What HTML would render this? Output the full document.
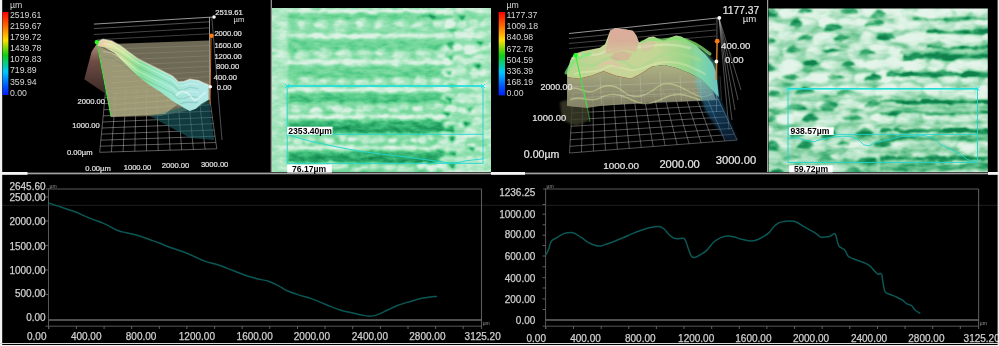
<!DOCTYPE html><html><head><meta charset="utf-8"><title>Profile</title><style>
html,body{margin:0;padding:0;background:#000;width:999px;height:346px;overflow:hidden}
svg{display:block}
text{font-family:'Liberation Sans', Arial, sans-serif}
.cl{stroke:#cfcfcf;stroke-width:0.25px;paint-order:stroke}.c3{stroke:#e0e0e0;stroke-width:0.22px;paint-order:stroke}
</style></head><body>
<svg width="999" height="346" viewBox="0 0 999 346">
<defs>
<linearGradient id="cbar" x1="0" y1="0" x2="0" y2="1">
<stop offset="0" stop-color="#ff0000"/><stop offset="0.17" stop-color="#ff6a00"/><stop offset="0.34" stop-color="#ffe000"/>
<stop offset="0.52" stop-color="#10d010"/><stop offset="0.72" stop-color="#00c8ff"/><stop offset="0.9" stop-color="#0050ff"/><stop offset="1" stop-color="#0020ff"/></linearGradient>

<linearGradient id="brown1" x1="0" y1="0" x2="0" y2="1"><stop offset="0" stop-color="#b58f80"/><stop offset="0.35" stop-color="#6e4c44"/><stop offset="1" stop-color="#3a2a26"/></linearGradient>
<linearGradient id="surf1" x1="95" y1="0" x2="210" y2="0" gradientUnits="userSpaceOnUse">
<stop offset="0" stop-color="#e8c4aa"/><stop offset="0.13" stop-color="#e4e0a6"/><stop offset="0.26" stop-color="#c4e69a"/><stop offset="0.4" stop-color="#86e09a"/><stop offset="0.58" stop-color="#96e8c8"/><stop offset="0.8" stop-color="#aae6e0"/><stop offset="1" stop-color="#b4eae8"/></linearGradient>
<linearGradient id="surf3" x1="560" y1="0" x2="720" y2="0" gradientUnits="userSpaceOnUse">
<stop offset="0" stop-color="#c0e896"/><stop offset="0.3" stop-color="#dae6a6"/><stop offset="0.6" stop-color="#d4e8a0"/><stop offset="0.78" stop-color="#a8e894"/><stop offset="0.9" stop-color="#80dcb0"/><stop offset="1" stop-color="#6ccccc"/></linearGradient>
<linearGradient id="side3" x1="690" y1="45" x2="735" y2="135" gradientUnits="userSpaceOnUse"><stop offset="0" stop-color="#78e0a0"/><stop offset="0.35" stop-color="#60c8c8"/><stop offset="0.65" stop-color="#2a7ab0"/><stop offset="1" stop-color="#123a60"/></linearGradient>
<linearGradient id="peak3" x1="0" y1="28" x2="0" y2="56" gradientUnits="userSpaceOnUse"><stop offset="0" stop-color="#e4a4a0"/><stop offset="0.45" stop-color="#daa898"/><stop offset="1" stop-color="#d4c49c"/></linearGradient>
<linearGradient id="wall3" x1="0" y1="66" x2="0" y2="108" gradientUnits="userSpaceOnUse"><stop offset="0" stop-color="#c4c894"/><stop offset="0.5" stop-color="#aaa984"/><stop offset="1" stop-color="#8e8c70"/></linearGradient>
<filter id="blur06" x="-5%" y="-5%" width="110%" height="110%"><feGaussianBlur stdDeviation="0.6"/></filter>


<clipPath id="clip2"><rect x="272" y="8" width="219" height="164"/></clipPath>
<clipPath id="clip4"><rect x="768.6" y="8.6" width="219.2" height="163.4"/></clipPath>
<linearGradient id="base2" x1="0" y1="8" x2="0" y2="172" gradientUnits="userSpaceOnUse">
<stop offset="0" stop-color="#b8e8cc"/><stop offset="0.45" stop-color="#a4dcbc"/><stop offset="1" stop-color="#8cccaa"/></linearGradient>
<linearGradient id="base4" x1="0" y1="8" x2="0" y2="172" gradientUnits="userSpaceOnUse">
<stop offset="0" stop-color="#b6e6c8"/><stop offset="0.5" stop-color="#a6dcbc"/><stop offset="1" stop-color="#7cc49c"/></linearGradient>
<filter id="blur1" x="-10%" y="-10%" width="120%" height="120%"><feGaussianBlur stdDeviation="1.2"/></filter>
<filter id="blur2" x="-10%" y="-10%" width="120%" height="120%"><feGaussianBlur stdDeviation="2"/></filter>
<filter id="disp" x="-5%" y="-5%" width="110%" height="110%">
<feTurbulence type="fractalNoise" baseFrequency="0.07 0.18" numOctaves="2" seed="3" result="n"/>
<feDisplacementMap in="SourceGraphic" in2="n" scale="7" xChannelSelector="R" yChannelSelector="G" result="d"/>
<feGaussianBlur in="d" stdDeviation="0.9"/>
</filter>
<filter id="tex4" x="0" y="0" width="100%" height="100%" color-interpolation-filters="sRGB">
<feTurbulence type="fractalNoise" baseFrequency="0.04 0.12" numOctaves="3" seed="9" result="n"/>
<feColorMatrix in="n" type="matrix" values="1 0 0 0 0  1 0 0 0 0  1 0 0 0 0  0 0 0 0 1"/>
<feComponentTransfer>
<feFuncR type="table" tableValues="0.04 0.04 0.04 0.22 0.72 0.84 0.89 0.92 0.94 0.95 0.96"/>
<feFuncG type="table" tableValues="0.46 0.46 0.46 0.62 0.88 0.93 0.95 0.96 0.96 0.97 0.97"/>
<feFuncB type="table" tableValues="0.26 0.26 0.26 0.42 0.78 0.86 0.9 0.92 0.93 0.94 0.95"/>
</feComponentTransfer>
</filter>
<linearGradient id="shade4" x1="0" y1="8" x2="0" y2="172" gradientUnits="userSpaceOnUse">
<stop offset="0" stop-color="#0a6a3a" stop-opacity="0"/><stop offset="0.5" stop-color="#0a6a3a" stop-opacity="0.05"/><stop offset="1" stop-color="#0a6a3a" stop-opacity="0.3"/></linearGradient>
<linearGradient id="p2shade" x1="0" y1="8" x2="0" y2="172" gradientUnits="userSpaceOnUse">
<stop offset="0" stop-color="#ffffff" stop-opacity="0.12"/><stop offset="0.5" stop-color="#000" stop-opacity="0"/><stop offset="1" stop-color="#000" stop-opacity="0.18"/></linearGradient>
<linearGradient id="ropeU" x1="0" y1="0" x2="0" y2="1"><stop offset="0" stop-color="#fafafa"/><stop offset="0.22" stop-color="#e8e8e8"/><stop offset="0.38" stop-color="#7e7e7e"/><stop offset="0.8" stop-color="#727272"/><stop offset="1" stop-color="#666666"/></linearGradient>
<linearGradient id="ropeM" x1="0" y1="0" x2="0" y2="1"><stop offset="0" stop-color="#f4f4f4"/><stop offset="0.2" stop-color="#d8d8d8"/><stop offset="0.36" stop-color="#686868"/><stop offset="0.8" stop-color="#545454"/><stop offset="1" stop-color="#444444"/></linearGradient>
<linearGradient id="ropeL" x1="0" y1="0" x2="0" y2="1"><stop offset="0" stop-color="#eeeeee"/><stop offset="0.18" stop-color="#cccccc"/><stop offset="0.34" stop-color="#4a4a4a"/><stop offset="0.8" stop-color="#2c2c2c"/><stop offset="1" stop-color="#1c1c1c"/></linearGradient>
<filter id="tex2" x="0" y="0" width="100%" height="100%" color-interpolation-filters="sRGB">
<feTurbulence type="fractalNoise" baseFrequency="0.09 0.2" numOctaves="3" seed="5" result="n0"/>
<feColorMatrix in="n0" type="matrix" values="1 0 0 0 0  1 0 0 0 0  1 0 0 0 0  0 0 0 0 1" result="n"/>
<feDisplacementMap in="SourceGraphic" in2="n0" scale="5" xChannelSelector="R" yChannelSelector="G" result="d"/>
<feGaussianBlur in="d" stdDeviation="1.0" result="db"/>
<feComposite in="db" in2="n" operator="arithmetic" k1="0" k2="1" k3="0.4" k4="-0.2" result="c"/>
<feComponentTransfer in="c">
<feFuncR type="table" tableValues="0.05 0.12 0.22 0.34 0.46 0.54 0.64 0.76 0.86"/>
<feFuncG type="table" tableValues="0.48 0.6 0.72 0.8 0.85 0.87 0.9 0.93 0.95"/>
<feFuncB type="table" tableValues="0.28 0.36 0.46 0.54 0.61 0.67 0.74 0.82 0.9"/>
</feComponentTransfer>
</filter>
<linearGradient id="p4shade" x1="0" y1="8" x2="0" y2="172" gradientUnits="userSpaceOnUse">
<stop offset="0" stop-color="#ffffff" stop-opacity="0.2"/><stop offset="0.5" stop-color="#000" stop-opacity="0"/><stop offset="1" stop-color="#000" stop-opacity="0.25"/></linearGradient>
<filter id="tex4b" x="0" y="0" width="100%" height="100%" color-interpolation-filters="sRGB">
<feTurbulence type="fractalNoise" baseFrequency="0.05 0.12" numOctaves="3" seed="12" result="n0"/>
<feColorMatrix in="n0" type="matrix" values="1 0 0 0 0  1 0 0 0 0  1 0 0 0 0  0 0 0 0 1" result="n"/>
<feDisplacementMap in="SourceGraphic" in2="n0" scale="6" xChannelSelector="R" yChannelSelector="G" result="d"/>
<feGaussianBlur in="d" stdDeviation="0.9" result="db"/>
<feComposite in="db" in2="n" operator="arithmetic" k1="0" k2="1" k3="0.7" k4="-0.35" result="c"/>
<feComponentTransfer in="c">
<feFuncR type="table" tableValues="0.06 0.14 0.28 0.44 0.58 0.68 0.78 0.86 0.9"/>
<feFuncG type="table" tableValues="0.5 0.6 0.7 0.78 0.84 0.88 0.92 0.95 0.96"/>
<feFuncB type="table" tableValues="0.3 0.38 0.48 0.58 0.68 0.76 0.83 0.89 0.92"/>
</feComponentTransfer>
</filter>
<filter id="noise" x="0" y="0" width="100%" height="100%">
<feTurbulence type="fractalNoise" baseFrequency="0.09 0.22" numOctaves="3" seed="4" result="t"/>
<feColorMatrix in="t" type="matrix" values="0 0 0 0 1  0 0 0 0 1  0 0 0 0 1  0 0 0 2.2 -1.05"/>
</filter>

</defs>
<g>
<rect width="999" height="346" fill="#000"/>
<line x1="2" y1="205.3" x2="998" y2="205.3" stroke="#1e1e1e" stroke-width="1"/>
<line x1="48.5" y1="188.5" x2="48.5" y2="329" stroke="#575757" stroke-width="1"/>
<line x1="46.0" y1="189" x2="481.5" y2="189" stroke="#5a5a5a" stroke-width="1.1"/>
<line x1="481.5" y1="189" x2="481.5" y2="329" stroke="#5a5a5a" stroke-width="1.1"/>
<line x1="48.5" y1="320" x2="481.5" y2="320" stroke="#6a6a6a" stroke-width="1.4"/>
<line x1="45.5" y1="326.2" x2="481.5" y2="326.2" stroke="#575757" stroke-width="1"/>
<line x1="48.8" y1="326" x2="48.8" y2="329" stroke="#606060" stroke-width="1"/>
<line x1="76.4" y1="326" x2="76.4" y2="329" stroke="#606060" stroke-width="1"/>
<line x1="104.1" y1="326" x2="104.1" y2="329" stroke="#606060" stroke-width="1"/>
<line x1="131.7" y1="326" x2="131.7" y2="329" stroke="#606060" stroke-width="1"/>
<line x1="159.3" y1="326" x2="159.3" y2="329" stroke="#606060" stroke-width="1"/>
<line x1="186.9" y1="326" x2="186.9" y2="329" stroke="#606060" stroke-width="1"/>
<line x1="214.6" y1="326" x2="214.6" y2="329" stroke="#606060" stroke-width="1"/>
<line x1="242.2" y1="326" x2="242.2" y2="329" stroke="#606060" stroke-width="1"/>
<line x1="269.8" y1="326" x2="269.8" y2="329" stroke="#606060" stroke-width="1"/>
<line x1="297.5" y1="326" x2="297.5" y2="329" stroke="#606060" stroke-width="1"/>
<line x1="325.1" y1="326" x2="325.1" y2="329" stroke="#606060" stroke-width="1"/>
<line x1="352.7" y1="326" x2="352.7" y2="329" stroke="#606060" stroke-width="1"/>
<line x1="380.4" y1="326" x2="380.4" y2="329" stroke="#606060" stroke-width="1"/>
<line x1="408.0" y1="326" x2="408.0" y2="329" stroke="#606060" stroke-width="1"/>
<line x1="435.6" y1="326" x2="435.6" y2="329" stroke="#606060" stroke-width="1"/>
<line x1="463.2" y1="326" x2="463.2" y2="329" stroke="#606060" stroke-width="1"/>
<line x1="45.5" y1="197" x2="48.5" y2="197" stroke="#606060" stroke-width="1"/>
<line x1="45.5" y1="221" x2="48.5" y2="221" stroke="#606060" stroke-width="1"/>
<line x1="45.5" y1="245.6" x2="48.5" y2="245.6" stroke="#606060" stroke-width="1"/>
<line x1="45.5" y1="270" x2="48.5" y2="270" stroke="#606060" stroke-width="1"/>
<line x1="45.5" y1="294.5" x2="48.5" y2="294.5" stroke="#606060" stroke-width="1"/>
<text x="45.6" y="189.8" text-anchor="end" font-size="10" fill="#cfcfcf" class="cl">2645.60</text>
<text x="45.6" y="201.0" text-anchor="end" font-size="10" fill="#cfcfcf" class="cl">2500.00</text>
<text x="45.6" y="225.0" text-anchor="end" font-size="10" fill="#cfcfcf" class="cl">2000.00</text>
<text x="45.6" y="249.8" text-anchor="end" font-size="10" fill="#cfcfcf" class="cl">1500.00</text>
<text x="45.6" y="273.8" text-anchor="end" font-size="10" fill="#cfcfcf" class="cl">1000.00</text>
<text x="45.6" y="297.4" text-anchor="end" font-size="10" fill="#cfcfcf" class="cl">500.00</text>
<text x="45.6" y="321.3" text-anchor="end" font-size="10" fill="#cfcfcf" class="cl">0.00</text>
<text x="27.0" y="339.8" font-size="10" fill="#cfcfcf" class="cl">0.00</text>
<text x="70.9" y="339.8" font-size="10" fill="#cfcfcf" class="cl">400.00</text>
<text x="125.8" y="339.8" font-size="10" fill="#cfcfcf" class="cl">800.00</text>
<text x="178.8" y="339.8" font-size="10" fill="#cfcfcf" class="cl">1200.00</text>
<text x="236.6" y="339.8" font-size="10" fill="#cfcfcf" class="cl">1600.00</text>
<text x="293.8" y="339.8" font-size="10" fill="#cfcfcf" class="cl">2000.00</text>
<text x="351.8" y="339.8" font-size="10" fill="#cfcfcf" class="cl">2400.00</text>
<text x="409.3" y="339.8" font-size="10" fill="#cfcfcf" class="cl">2800.00</text>
<text x="464.6" y="339.8" font-size="10" fill="#cfcfcf" class="cl">3125.20</text>
<text x="49.5" y="187.6" font-size="5" fill="#9a9a9a">µm</text>
<text x="482.7" y="324.8" font-size="5" fill="#9a9a9a">µm</text>
<path d="M49.3,203.3 C51.5,204.0 58.6,206.3 62.3,207.5 C66.0,208.7 69.0,209.7 71.3,210.5 C73.6,211.3 73.1,211.0 76.2,212.3 C79.3,213.6 85.5,216.5 90.1,218.4 C94.7,220.3 99.4,221.6 104.0,223.6 C108.6,225.6 114.0,229.0 117.8,230.5 C121.5,232.0 123.0,231.9 126.5,232.8 C130.0,233.7 134.3,234.4 138.6,235.7 C142.9,237.0 148.9,239.3 152.5,240.6 C156.1,241.9 157.0,242.2 160.0,243.3 C163.0,244.5 166.7,246.1 170.4,247.5 C174.2,248.9 178.4,250.0 182.5,251.5 C186.6,253.0 190.9,255.0 194.7,256.7 C198.5,258.3 201.0,260.0 205.1,261.4 C209.2,262.8 214.4,263.8 219.0,265.3 C223.6,266.8 228.5,268.9 232.8,270.5 C237.1,272.1 240.9,273.8 245.0,275.2 C249.1,276.6 253.1,277.6 257.1,278.7 C261.1,279.8 265.4,280.2 269.2,281.5 C273.0,282.8 277.0,285.1 280.0,286.7 C283.0,288.2 283.9,289.4 287.1,290.8 C290.3,292.2 295.2,293.8 299.3,295.1 C303.4,296.4 307.9,297.4 311.4,298.6 C314.9,299.8 316.9,300.8 320.1,302.1 C323.3,303.4 327.0,305.0 330.5,306.4 C334.0,307.8 337.1,309.1 340.9,310.2 C344.6,311.3 349.5,312.2 353.0,313.0 C356.5,313.8 359.1,314.6 361.7,315.1 C364.3,315.6 366.3,316.1 368.6,316.1 C370.9,316.2 373.0,316.1 375.6,315.4 C378.2,314.6 382.0,312.6 384.2,311.6 C386.4,310.6 386.5,310.5 388.7,309.5 C390.9,308.5 393.8,306.8 397.3,305.5 C400.8,304.2 405.4,302.9 409.5,301.7 C413.6,300.5 418.1,299.1 421.6,298.3 C425.1,297.5 427.8,297.2 430.3,296.9 C432.8,296.6 435.4,296.6 436.4,296.5" fill="none" stroke="#0b5755" stroke-width="1.5" stroke-linejoin="round" stroke-linecap="round"/>
<line x1="545.6" y1="188.5" x2="545.6" y2="329" stroke="#575757" stroke-width="1"/>
<line x1="543.1" y1="189" x2="978.6" y2="189" stroke="#5a5a5a" stroke-width="1.1"/>
<line x1="978.6" y1="189" x2="978.6" y2="329" stroke="#5a5a5a" stroke-width="1.1"/>
<line x1="545.6" y1="320" x2="978.6" y2="320" stroke="#6a6a6a" stroke-width="1.4"/>
<line x1="542.6" y1="326.2" x2="978.6" y2="326.2" stroke="#575757" stroke-width="1"/>
<line x1="545.9" y1="326" x2="545.9" y2="329" stroke="#606060" stroke-width="1"/>
<line x1="573.5" y1="326" x2="573.5" y2="329" stroke="#606060" stroke-width="1"/>
<line x1="601.2" y1="326" x2="601.2" y2="329" stroke="#606060" stroke-width="1"/>
<line x1="628.8" y1="326" x2="628.8" y2="329" stroke="#606060" stroke-width="1"/>
<line x1="656.4" y1="326" x2="656.4" y2="329" stroke="#606060" stroke-width="1"/>
<line x1="684.0" y1="326" x2="684.0" y2="329" stroke="#606060" stroke-width="1"/>
<line x1="711.7" y1="326" x2="711.7" y2="329" stroke="#606060" stroke-width="1"/>
<line x1="739.3" y1="326" x2="739.3" y2="329" stroke="#606060" stroke-width="1"/>
<line x1="766.9" y1="326" x2="766.9" y2="329" stroke="#606060" stroke-width="1"/>
<line x1="794.6" y1="326" x2="794.6" y2="329" stroke="#606060" stroke-width="1"/>
<line x1="822.2" y1="326" x2="822.2" y2="329" stroke="#606060" stroke-width="1"/>
<line x1="849.8" y1="326" x2="849.8" y2="329" stroke="#606060" stroke-width="1"/>
<line x1="877.5" y1="326" x2="877.5" y2="329" stroke="#606060" stroke-width="1"/>
<line x1="905.1" y1="326" x2="905.1" y2="329" stroke="#606060" stroke-width="1"/>
<line x1="932.7" y1="326" x2="932.7" y2="329" stroke="#606060" stroke-width="1"/>
<line x1="960.3" y1="326" x2="960.3" y2="329" stroke="#606060" stroke-width="1"/>
<line x1="542.6" y1="204.5" x2="545.6" y2="204.5" stroke="#606060" stroke-width="1"/>
<line x1="542.6" y1="214.2" x2="545.6" y2="214.2" stroke="#606060" stroke-width="1"/>
<line x1="542.6" y1="224.8" x2="545.6" y2="224.8" stroke="#606060" stroke-width="1"/>
<line x1="542.6" y1="235.2" x2="545.6" y2="235.2" stroke="#606060" stroke-width="1"/>
<line x1="542.6" y1="245.6" x2="545.6" y2="245.6" stroke="#606060" stroke-width="1"/>
<line x1="542.6" y1="256" x2="545.6" y2="256" stroke="#606060" stroke-width="1"/>
<line x1="542.6" y1="266.8" x2="545.6" y2="266.8" stroke="#606060" stroke-width="1"/>
<line x1="542.6" y1="277.7" x2="545.6" y2="277.7" stroke="#606060" stroke-width="1"/>
<line x1="542.6" y1="288" x2="545.6" y2="288" stroke="#606060" stroke-width="1"/>
<line x1="542.6" y1="298.9" x2="545.6" y2="298.9" stroke="#606060" stroke-width="1"/>
<line x1="542.6" y1="309.5" x2="545.6" y2="309.5" stroke="#606060" stroke-width="1"/>
<text x="535.3" y="195.6" text-anchor="end" font-size="10" fill="#cfcfcf" class="cl">1236.25</text>
<text x="535.3" y="217.6" text-anchor="end" font-size="10" fill="#cfcfcf" class="cl">1000.00</text>
<text x="535.3" y="238.4" text-anchor="end" font-size="10" fill="#cfcfcf" class="cl">800.00</text>
<text x="535.3" y="260.1" text-anchor="end" font-size="10" fill="#cfcfcf" class="cl">600.00</text>
<text x="535.3" y="281.6" text-anchor="end" font-size="10" fill="#cfcfcf" class="cl">400.00</text>
<text x="535.3" y="303.4" text-anchor="end" font-size="10" fill="#cfcfcf" class="cl">200.00</text>
<text x="535.3" y="324.4" text-anchor="end" font-size="10" fill="#cfcfcf" class="cl">0.00</text>
<text x="526.5" y="342.4" font-size="10" fill="#cfcfcf" class="cl">0.00</text>
<text x="570.2" y="342.4" font-size="10" fill="#cfcfcf" class="cl">400.00</text>
<text x="625.0" y="342.4" font-size="10" fill="#cfcfcf" class="cl">800.00</text>
<text x="678.1" y="342.4" font-size="10" fill="#cfcfcf" class="cl">1200.00</text>
<text x="735.3" y="342.4" font-size="10" fill="#cfcfcf" class="cl">1600.00</text>
<text x="792.9" y="342.4" font-size="10" fill="#cfcfcf" class="cl">2000.00</text>
<text x="850.9" y="342.4" font-size="10" fill="#cfcfcf" class="cl">2400.00</text>
<text x="908.3" y="342.4" font-size="10" fill="#cfcfcf" class="cl">2800.00</text>
<text x="963.6" y="342.4" font-size="10" fill="#cfcfcf" class="cl">3125.20</text>
<text x="546.6" y="187.6" font-size="5" fill="#9a9a9a">µm</text>
<text x="979.8000000000001" y="324.8" font-size="5" fill="#9a9a9a">µm</text>
<path d="M546.1,254.7 C546.5,253.8 547.8,251.2 548.7,249.0 C549.6,246.8 549.9,243.1 551.3,241.2 C552.7,239.3 555.1,238.7 557.3,237.4 C559.5,236.1 562.0,234.2 564.3,233.4 C566.6,232.6 569.5,232.5 571.2,232.5 C572.9,232.5 573.0,232.5 574.7,233.4 C576.4,234.3 579.3,236.2 581.6,237.7 C583.9,239.2 586.3,241.3 588.6,242.6 C590.9,243.9 593.5,244.9 595.5,245.5 C597.5,246.1 599.0,246.1 600.7,245.9 C602.4,245.7 603.6,245.1 605.9,244.3 C608.2,243.5 611.7,242.3 614.6,241.2 C617.5,240.1 620.3,238.9 623.2,237.7 C626.1,236.5 629.0,235.1 631.9,233.9 C634.8,232.7 637.7,231.5 640.6,230.5 C643.5,229.5 646.8,228.3 649.2,227.7 C651.6,227.1 653.2,226.9 655.0,226.7 C656.8,226.5 658.6,226.3 660.2,226.7 C661.8,227.1 663.0,228.0 664.5,229.3 C666.0,230.6 667.4,233.1 668.9,234.5 C670.4,235.9 671.8,237.2 673.2,237.9 C674.6,238.6 675.8,238.7 677.5,238.8 C679.2,238.9 682.1,237.7 683.6,238.3 C685.1,238.9 685.3,240.3 686.2,242.3 C687.1,244.3 687.9,247.8 688.8,250.1 C689.7,252.4 690.4,255.0 691.4,256.2 C692.4,257.4 693.4,257.6 694.9,257.4 C696.4,257.2 698.1,256.1 700.1,254.9 C702.1,253.7 704.7,252.3 707.0,250.1 C709.3,247.9 711.7,243.9 714.0,241.8 C716.3,239.7 718.6,238.6 720.9,237.6 C723.2,236.6 725.5,236.0 727.8,235.9 C730.1,235.8 732.5,236.5 734.8,237.1 C737.1,237.7 739.1,238.7 741.7,239.3 C744.3,239.9 747.8,240.8 750.4,240.9 C753.0,241.0 755.0,240.5 757.3,239.7 C759.6,238.9 762.2,237.4 764.2,236.2 C766.2,235.0 767.7,234.0 769.3,232.4 C770.9,230.8 772.1,228.3 773.7,226.7 C775.3,225.1 777.2,223.8 778.9,222.9 C780.6,222.0 782.4,221.8 784.1,221.5 C785.8,221.2 787.3,220.9 789.3,221.0 C791.3,221.1 793.9,221.1 796.2,222.0 C798.5,222.9 800.8,224.8 803.1,226.2 C805.4,227.5 807.9,228.9 810.1,230.1 C812.3,231.3 814.5,232.4 816.2,233.6 C817.9,234.8 819.1,236.5 820.5,237.1 C821.9,237.7 823.2,237.2 824.8,237.1 C826.4,236.9 828.4,236.8 830.0,236.2 C831.6,235.6 833.4,233.6 834.4,233.6 C835.4,233.6 835.4,234.2 836.1,236.2 C836.8,238.2 837.7,243.7 838.7,245.7 C839.7,247.7 841.2,247.7 842.2,248.4 C843.2,249.1 843.8,248.8 844.8,250.1 C845.8,251.4 846.8,254.8 848.2,256.2 C849.6,257.6 851.4,257.9 853.4,258.8 C855.4,259.7 858.4,260.7 860.4,261.4 C862.4,262.1 863.5,262.4 865.1,263.2 C866.7,264.0 868.6,265.0 870.1,266.2 C871.6,267.4 872.9,269.2 874.2,270.6 C875.6,272.0 877.2,273.9 878.2,274.3 C879.2,274.8 879.6,273.1 880.2,273.3 C880.8,273.5 881.4,273.5 881.9,275.3 C882.4,277.1 882.7,281.6 883.3,284.4 C883.9,287.2 884.1,290.4 885.3,292.1 C886.5,293.8 888.5,293.7 890.4,294.5 C892.2,295.3 894.4,296.1 896.4,297.0 C898.4,297.9 900.8,299.1 902.5,300.2 C904.2,301.3 905.1,302.7 906.6,303.6 C908.1,304.5 910.2,304.7 911.6,305.7 C913.0,306.7 913.4,308.4 914.7,309.7 C916.1,310.9 918.9,312.6 919.7,313.2" fill="none" stroke="#0b5755" stroke-width="1.5" stroke-linejoin="round" stroke-linecap="round"/>
<rect x="0" y="0" width="2.2" height="346" fill="#f2f2f2"/>
<rect x="997.6" y="0" width="1.4" height="346" fill="#e8e8e8"/>
<rect x="0" y="343" width="999" height="1" fill="#d8d8d8"/>
<rect x="0" y="345" width="999" height="1" fill="#f4f4f4"/>
<rect x="2" y="172.6" width="996" height="1.7" fill="#a2a2a2"/>
<rect x="0" y="172" width="27.5" height="2.8" fill="#f4f4f4"/>
<rect x="491" y="172" width="34" height="2.8" fill="#f4f4f4"/>
<rect x="988" y="172" width="11" height="2.8" fill="#f4f4f4"/>
<rect x="270.7" y="0" width="1.2" height="172" fill="#a0a0a0"/>
<rect x="767" y="0" width="1.2" height="172" fill="#a0a0a0"/>
<g clip-path="url(#clip2)">
<g filter="url(#tex2)">
<rect x="262" y="-2" width="239" height="184" fill="#949494"/>
<rect x="262" y="-2" width="239" height="184" fill="url(#p2shade)"/>
<rect x="284" y="9" width="229" height="10" fill="url(#ropeU)"/>
<rect x="280" y="9.5" width="229" height="3.6" fill="#ffffff"/>
<rect x="284" y="33.5" width="229" height="16.5" fill="url(#ropeU)"/>
<rect x="280" y="34.0" width="229" height="3.6" fill="#ffffff"/>
<rect x="284" y="59.5" width="229" height="18.5" fill="url(#ropeU)"/>
<rect x="280" y="60.0" width="229" height="3.6" fill="#ffffff"/>
<rect x="284" y="87.5" width="229" height="15.0" fill="url(#ropeM)"/>
<rect x="280" y="88.0" width="229" height="3.6" fill="#ffffff"/>
<rect x="284" y="114.5" width="229" height="18.5" fill="url(#ropeL)"/>
<rect x="280" y="115.0" width="229" height="3.6" fill="#ffffff"/>
<rect x="284" y="145.5" width="229" height="17.0" fill="url(#ropeL)"/>
<rect x="280" y="146.0" width="229" height="3.6" fill="#ffffff"/>
<ellipse cx="283.9" cy="26.1" rx="7.4" ry="5.5" fill="#b0b0b0"/>
<ellipse cx="281.9" cy="24.5" rx="3.7" ry="2.5" fill="#ebebeb"/>
<ellipse cx="303.4" cy="25.7" rx="7.1" ry="5.3" fill="#afafaf"/>
<ellipse cx="301.4" cy="24.5" rx="3.6" ry="2.4" fill="#ebebeb"/>
<ellipse cx="321.7" cy="24.5" rx="7.2" ry="5.1" fill="#cfcfcf"/>
<ellipse cx="319.7" cy="24.5" rx="3.6" ry="2.3" fill="#ebebeb"/>
<ellipse cx="340.6" cy="25.6" rx="8.6" ry="5.9" fill="#c5c5c5"/>
<ellipse cx="338.6" cy="24.5" rx="4.3" ry="2.7" fill="#ebebeb"/>
<ellipse cx="362.5" cy="24.6" rx="7.1" ry="5.8" fill="#b9b9b9"/>
<ellipse cx="360.5" cy="24.5" rx="3.6" ry="2.6" fill="#ebebeb"/>
<ellipse cx="381.0" cy="26.3" rx="7.8" ry="5.7" fill="#b5b5b5"/>
<ellipse cx="379.0" cy="24.5" rx="3.9" ry="2.6" fill="#ebebeb"/>
<ellipse cx="401.5" cy="24.2" rx="7.9" ry="5.3" fill="#b0b0b0"/>
<ellipse cx="399.5" cy="24.5" rx="4.0" ry="2.4" fill="#ebebeb"/>
<ellipse cx="420.3" cy="26.3" rx="8.7" ry="5.1" fill="#bababa"/>
<ellipse cx="418.3" cy="24.5" rx="4.4" ry="2.3" fill="#ebebeb"/>
<ellipse cx="440.1" cy="25.0" rx="7.7" ry="5.7" fill="#cacaca"/>
<ellipse cx="438.1" cy="24.5" rx="3.9" ry="2.6" fill="#ebebeb"/>
<ellipse cx="460.4" cy="25.2" rx="8.3" ry="5.8" fill="#cbcbcb"/>
<ellipse cx="458.4" cy="24.5" rx="4.2" ry="2.6" fill="#ebebeb"/>
<ellipse cx="482.4" cy="24.6" rx="7.3" ry="5.1" fill="#cccccc"/>
<ellipse cx="480.4" cy="24.5" rx="3.6" ry="2.3" fill="#ebebeb"/>
<ellipse cx="282.2" cy="56.1" rx="8.7" ry="5.6" fill="#c5c5c5"/>
<ellipse cx="280.2" cy="53.5" rx="4.3" ry="2.5" fill="#ebebeb"/>
<ellipse cx="301.5" cy="54.9" rx="8.7" ry="5.4" fill="#c5c5c5"/>
<ellipse cx="299.5" cy="53.5" rx="4.4" ry="2.4" fill="#ebebeb"/>
<ellipse cx="322.9" cy="53.7" rx="9.4" ry="5.2" fill="#c8c8c8"/>
<ellipse cx="320.9" cy="53.5" rx="4.7" ry="2.3" fill="#ebebeb"/>
<ellipse cx="343.7" cy="54.4" rx="8.6" ry="6.0" fill="#cfcfcf"/>
<ellipse cx="341.7" cy="53.5" rx="4.3" ry="2.7" fill="#ebebeb"/>
<ellipse cx="363.2" cy="54.0" rx="8.7" ry="4.5" fill="#c0c0c0"/>
<ellipse cx="361.2" cy="53.5" rx="4.3" ry="2.0" fill="#ebebeb"/>
<ellipse cx="381.7" cy="54.2" rx="7.1" ry="5.7" fill="#b3b3b3"/>
<ellipse cx="379.7" cy="53.5" rx="3.6" ry="2.5" fill="#ebebeb"/>
<ellipse cx="401.2" cy="55.1" rx="9.2" ry="4.6" fill="#c0c0c0"/>
<ellipse cx="399.2" cy="53.5" rx="4.6" ry="2.1" fill="#ebebeb"/>
<ellipse cx="422.8" cy="54.7" rx="9.0" ry="5.8" fill="#b9b9b9"/>
<ellipse cx="420.8" cy="53.5" rx="4.5" ry="2.6" fill="#ebebeb"/>
<ellipse cx="442.2" cy="54.0" rx="9.2" ry="5.9" fill="#b4b4b4"/>
<ellipse cx="440.2" cy="53.5" rx="4.6" ry="2.7" fill="#ebebeb"/>
<ellipse cx="461.1" cy="54.3" rx="7.6" ry="5.2" fill="#c5c5c5"/>
<ellipse cx="459.1" cy="53.5" rx="3.8" ry="2.4" fill="#ebebeb"/>
<ellipse cx="479.1" cy="56.4" rx="8.0" ry="5.1" fill="#c5c5c5"/>
<ellipse cx="477.1" cy="53.5" rx="4.0" ry="2.3" fill="#ebebeb"/>
<ellipse cx="285.1" cy="83.5" rx="8.5" ry="5.5" fill="#b0b0b0"/>
<ellipse cx="283.1" cy="81.0" rx="4.3" ry="2.5" fill="#ebebeb"/>
<ellipse cx="306.2" cy="82.3" rx="9.2" ry="5.7" fill="#bdbdbd"/>
<ellipse cx="304.2" cy="81.0" rx="4.6" ry="2.6" fill="#ebebeb"/>
<ellipse cx="324.6" cy="81.8" rx="8.6" ry="4.6" fill="#b0b0b0"/>
<ellipse cx="322.6" cy="81.0" rx="4.3" ry="2.1" fill="#ebebeb"/>
<ellipse cx="343.3" cy="81.7" rx="7.9" ry="4.6" fill="#adadad"/>
<ellipse cx="341.3" cy="81.0" rx="3.9" ry="2.1" fill="#ebebeb"/>
<ellipse cx="361.7" cy="82.8" rx="7.9" ry="4.5" fill="#d1d1d1"/>
<ellipse cx="359.7" cy="81.0" rx="4.0" ry="2.0" fill="#ebebeb"/>
<ellipse cx="380.3" cy="81.6" rx="7.6" ry="5.0" fill="#bcbcbc"/>
<ellipse cx="378.3" cy="81.0" rx="3.8" ry="2.3" fill="#ebebeb"/>
<ellipse cx="401.7" cy="81.5" rx="9.5" ry="5.2" fill="#c1c1c1"/>
<ellipse cx="399.7" cy="81.0" rx="4.7" ry="2.3" fill="#ebebeb"/>
<ellipse cx="420.1" cy="81.7" rx="7.9" ry="4.9" fill="#cfcfcf"/>
<ellipse cx="418.1" cy="81.0" rx="3.9" ry="2.2" fill="#ebebeb"/>
<ellipse cx="438.2" cy="82.6" rx="9.4" ry="5.3" fill="#b3b3b3"/>
<ellipse cx="436.2" cy="81.0" rx="4.7" ry="2.4" fill="#ebebeb"/>
<ellipse cx="456.3" cy="83.0" rx="8.3" ry="6.0" fill="#d1d1d1"/>
<ellipse cx="454.3" cy="81.0" rx="4.2" ry="2.7" fill="#ebebeb"/>
<ellipse cx="475.3" cy="82.6" rx="7.9" ry="4.8" fill="#cdcdcd"/>
<ellipse cx="473.3" cy="81.0" rx="4.0" ry="2.1" fill="#ebebeb"/>
<ellipse cx="284.0" cy="109.9" rx="4.2" ry="3.7" fill="#fefefe"/>
<ellipse cx="295.8" cy="108.6" rx="6.0" ry="3.5" fill="#d4d4d4"/>
<ellipse cx="304.9" cy="107.5" rx="3.6" ry="2.3" fill="#d7d7d7"/>
<ellipse cx="316.1" cy="110.5" rx="6.4" ry="3.0" fill="#fbfbfb"/>
<ellipse cx="328.8" cy="107.3" rx="4.6" ry="2.6" fill="#d4d4d4"/>
<ellipse cx="337.1" cy="108.4" rx="5.4" ry="3.8" fill="#f6f6f6"/>
<ellipse cx="348.0" cy="110.1" rx="5.9" ry="2.4" fill="#ececec"/>
<ellipse cx="359.7" cy="109.7" rx="5.8" ry="3.1" fill="#d1d1d1"/>
<ellipse cx="368.7" cy="108.1" rx="5.9" ry="3.9" fill="#dddddd"/>
<ellipse cx="381.3" cy="107.1" rx="5.7" ry="2.5" fill="#cecece"/>
<ellipse cx="393.8" cy="110.4" rx="5.9" ry="2.5" fill="#f5f5f5"/>
<ellipse cx="404.7" cy="106.6" rx="4.6" ry="3.2" fill="#cecece"/>
<ellipse cx="417.5" cy="108.2" rx="5.4" ry="3.1" fill="#fbfbfb"/>
<ellipse cx="429.8" cy="107.7" rx="6.0" ry="2.6" fill="#d5d5d5"/>
<ellipse cx="438.2" cy="107.0" rx="5.3" ry="2.7" fill="#dedede"/>
<ellipse cx="450.7" cy="110.1" rx="4.6" ry="3.0" fill="#e8e8e8"/>
<ellipse cx="460.2" cy="108.6" rx="6.3" ry="3.1" fill="#e5e5e5"/>
<ellipse cx="467.3" cy="109.7" rx="4.8" ry="2.5" fill="#c7c7c7"/>
<ellipse cx="475.3" cy="107.8" rx="4.9" ry="3.5" fill="#e6e6e6"/>
<ellipse cx="485.5" cy="108.7" rx="5.2" ry="3.6" fill="#cdcdcd"/>
<ellipse cx="493.9" cy="108.7" rx="4.3" ry="3.6" fill="#e3e3e3"/>
<ellipse cx="287.5" cy="139.5" rx="4.8" ry="3.3" fill="#e3e3e3"/>
<ellipse cx="298.6" cy="141.3" rx="4.9" ry="3.2" fill="#e2e2e2"/>
<ellipse cx="309.8" cy="139.7" rx="6.1" ry="3.9" fill="#d5d5d5"/>
<ellipse cx="322.5" cy="139.3" rx="6.0" ry="2.4" fill="#cecece"/>
<ellipse cx="329.9" cy="140.6" rx="4.2" ry="2.3" fill="#ececec"/>
<ellipse cx="342.3" cy="138.1" rx="4.0" ry="3.5" fill="#ececec"/>
<ellipse cx="354.6" cy="139.1" rx="6.4" ry="2.6" fill="#fcfcfc"/>
<ellipse cx="364.5" cy="139.2" rx="6.5" ry="3.7" fill="#d0d0d0"/>
<ellipse cx="374.6" cy="140.4" rx="4.5" ry="2.6" fill="#d9d9d9"/>
<ellipse cx="381.7" cy="138.8" rx="5.2" ry="3.0" fill="#c8c8c8"/>
<ellipse cx="392.5" cy="140.7" rx="5.0" ry="2.3" fill="#fefefe"/>
<ellipse cx="405.3" cy="140.6" rx="3.8" ry="2.7" fill="#c9c9c9"/>
<ellipse cx="413.9" cy="140.8" rx="3.9" ry="3.0" fill="#fafafa"/>
<ellipse cx="422.5" cy="140.3" rx="3.9" ry="3.9" fill="#e7e7e7"/>
<ellipse cx="430.0" cy="137.8" rx="3.7" ry="3.4" fill="#dfdfdf"/>
<ellipse cx="442.6" cy="140.9" rx="5.4" ry="3.6" fill="#cccccc"/>
<ellipse cx="450.0" cy="139.7" rx="6.1" ry="3.0" fill="#dadada"/>
<ellipse cx="462.6" cy="138.5" rx="4.3" ry="2.4" fill="#e4e4e4"/>
<ellipse cx="470.3" cy="138.7" rx="4.0" ry="2.3" fill="#d2d2d2"/>
<ellipse cx="479.1" cy="138.2" rx="5.8" ry="2.7" fill="#e3e3e3"/>
<ellipse cx="488.2" cy="140.4" rx="3.6" ry="2.7" fill="#c8c8c8"/>
<ellipse cx="283.1" cy="168.3" rx="4.9" ry="3.9" fill="#cdcdcd"/>
<ellipse cx="292.7" cy="167.0" rx="5.0" ry="3.7" fill="#dddddd"/>
<ellipse cx="303.9" cy="167.8" rx="6.4" ry="2.8" fill="#f6f6f6"/>
<ellipse cx="314.7" cy="165.5" rx="4.7" ry="2.8" fill="#cacaca"/>
<ellipse cx="322.1" cy="165.3" rx="5.7" ry="2.7" fill="#d0d0d0"/>
<ellipse cx="334.1" cy="166.0" rx="6.1" ry="3.4" fill="#d7d7d7"/>
<ellipse cx="342.9" cy="166.1" rx="4.9" ry="2.5" fill="#e0e0e0"/>
<ellipse cx="355.7" cy="168.9" rx="6.4" ry="3.2" fill="#d5d5d5"/>
<ellipse cx="364.5" cy="166.9" rx="4.6" ry="2.2" fill="#dcdcdc"/>
<ellipse cx="374.5" cy="166.1" rx="4.1" ry="3.1" fill="#c7c7c7"/>
<ellipse cx="382.1" cy="166.2" rx="4.7" ry="2.3" fill="#c8c8c8"/>
<ellipse cx="390.5" cy="167.6" rx="5.3" ry="3.2" fill="#f1f1f1"/>
<ellipse cx="401.8" cy="168.9" rx="6.1" ry="2.9" fill="#d9d9d9"/>
<ellipse cx="409.7" cy="168.3" rx="5.7" ry="3.4" fill="#c9c9c9"/>
<ellipse cx="422.0" cy="165.6" rx="5.4" ry="3.5" fill="#f4f4f4"/>
<ellipse cx="432.2" cy="168.3" rx="5.0" ry="3.7" fill="#f4f4f4"/>
<ellipse cx="442.7" cy="165.9" rx="6.2" ry="3.4" fill="#eeeeee"/>
<ellipse cx="449.9" cy="168.3" rx="3.9" ry="2.8" fill="#cdcdcd"/>
<ellipse cx="460.2" cy="167.0" rx="5.4" ry="3.3" fill="#ededed"/>
<ellipse cx="467.2" cy="167.1" rx="5.9" ry="3.5" fill="#e3e3e3"/>
<ellipse cx="478.2" cy="165.3" rx="3.7" ry="3.5" fill="#d5d5d5"/>
<ellipse cx="486.8" cy="168.9" rx="5.7" ry="2.6" fill="#f0f0f0"/>
<rect x="452" y="3" width="45" height="174" fill="#a3a3a3"/>
<ellipse cx="447.9" cy="11.1" rx="6.4" ry="4.9" fill="#efefef"/>
<ellipse cx="460.1" cy="9.0" rx="5.2" ry="3.8" fill="#f5f5f5"/>
<ellipse cx="470.6" cy="8.2" rx="6.7" ry="3.5" fill="#e1e1e1"/>
<ellipse cx="483.0" cy="9.2" rx="7.1" ry="4.9" fill="#ebebeb"/>
<ellipse cx="494.3" cy="11.6" rx="6.4" ry="3.7" fill="#dedede"/>
<ellipse cx="450.7" cy="23.8" rx="5.1" ry="4.4" fill="#fefefe"/>
<ellipse cx="461.9" cy="24.3" rx="5.8" ry="3.9" fill="#dfdfdf"/>
<ellipse cx="473.8" cy="24.3" rx="5.4" ry="4.5" fill="#dcdcdc"/>
<ellipse cx="486.9" cy="23.3" rx="6.5" ry="5.3" fill="#e0e0e0"/>
<ellipse cx="448.4" cy="35.0" rx="5.1" ry="3.5" fill="#e9e9e9"/>
<ellipse cx="458.9" cy="34.3" rx="5.4" ry="4.2" fill="#f8f8f8"/>
<ellipse cx="467.9" cy="33.5" rx="7.3" ry="5.2" fill="#fcfcfc"/>
<ellipse cx="480.5" cy="34.5" rx="7.7" ry="4.1" fill="#e6e6e6"/>
<ellipse cx="494.5" cy="34.7" rx="6.8" ry="4.2" fill="#e1e1e1"/>
<ellipse cx="446.5" cy="49.2" rx="7.5" ry="4.1" fill="#e0e0e0"/>
<ellipse cx="456.8" cy="47.0" rx="6.5" ry="3.9" fill="#fdfdfd"/>
<ellipse cx="470.3" cy="49.2" rx="7.4" ry="4.8" fill="#fdfdfd"/>
<ellipse cx="482.0" cy="48.4" rx="7.2" ry="3.6" fill="#e9e9e9"/>
<ellipse cx="494.8" cy="45.7" rx="6.9" ry="4.1" fill="#fcfcfc"/>
<ellipse cx="448.4" cy="61.0" rx="6.0" ry="4.1" fill="#fefefe"/>
<ellipse cx="458.7" cy="60.2" rx="7.0" ry="4.1" fill="#e6e6e6"/>
<ellipse cx="468.5" cy="61.6" rx="5.5" ry="3.9" fill="#eaeaea"/>
<ellipse cx="478.6" cy="59.8" rx="7.7" ry="5.5" fill="#dcdcdc"/>
<ellipse cx="488.6" cy="58.4" rx="5.3" ry="4.2" fill="#e0e0e0"/>
<ellipse cx="448.8" cy="72.2" rx="7.7" ry="5.0" fill="#e7e7e7"/>
<ellipse cx="460.5" cy="70.7" rx="6.1" ry="4.2" fill="#e2e2e2"/>
<ellipse cx="474.3" cy="73.0" rx="5.4" ry="4.5" fill="#f9f9f9"/>
<ellipse cx="484.4" cy="72.1" rx="5.8" ry="4.0" fill="#e8e8e8"/>
<ellipse cx="450.2" cy="83.1" rx="7.6" ry="3.5" fill="#f3f3f3"/>
<ellipse cx="463.7" cy="83.0" rx="6.4" ry="4.7" fill="#e6e6e6"/>
<ellipse cx="477.4" cy="86.9" rx="7.5" ry="5.2" fill="#e0e0e0"/>
<ellipse cx="486.9" cy="85.7" rx="5.5" ry="4.5" fill="#fdfdfd"/>
<ellipse cx="449.2" cy="97.7" rx="7.3" ry="4.4" fill="#d8d8d8"/>
<ellipse cx="462.1" cy="98.1" rx="5.7" ry="5.3" fill="#e3e3e3"/>
<ellipse cx="471.8" cy="98.3" rx="5.8" ry="4.8" fill="#dbdbdb"/>
<ellipse cx="481.1" cy="97.1" rx="6.6" ry="4.7" fill="#dfdfdf"/>
<ellipse cx="493.1" cy="97.3" rx="5.0" ry="4.1" fill="#fdfdfd"/>
<ellipse cx="450.4" cy="109.0" rx="6.4" ry="4.0" fill="#fdfdfd"/>
<ellipse cx="462.9" cy="110.0" rx="5.9" ry="3.5" fill="#f2f2f2"/>
<ellipse cx="474.0" cy="111.7" rx="5.8" ry="4.8" fill="#dfdfdf"/>
<ellipse cx="483.2" cy="110.7" rx="6.0" ry="4.3" fill="#dedede"/>
<ellipse cx="449.7" cy="124.4" rx="6.5" ry="3.9" fill="#e3e3e3"/>
<ellipse cx="462.8" cy="123.5" rx="5.7" ry="3.9" fill="#e2e2e2"/>
<ellipse cx="476.6" cy="121.4" rx="6.5" ry="3.9" fill="#e7e7e7"/>
<ellipse cx="488.9" cy="122.1" rx="7.8" ry="3.8" fill="#dfdfdf"/>
<ellipse cx="446.7" cy="134.6" rx="5.2" ry="3.6" fill="#fbfbfb"/>
<ellipse cx="460.1" cy="136.7" rx="7.2" ry="5.5" fill="#e4e4e4"/>
<ellipse cx="470.1" cy="133.1" rx="7.8" ry="5.0" fill="#f1f1f1"/>
<ellipse cx="480.9" cy="133.7" rx="6.1" ry="4.2" fill="#d6d6d6"/>
<ellipse cx="491.3" cy="133.5" rx="6.1" ry="5.4" fill="#fefefe"/>
<ellipse cx="447.8" cy="147.2" rx="7.5" ry="5.1" fill="#d8d8d8"/>
<ellipse cx="459.2" cy="146.3" rx="6.1" ry="5.3" fill="#e5e5e5"/>
<ellipse cx="472.6" cy="148.7" rx="5.1" ry="4.3" fill="#f5f5f5"/>
<ellipse cx="481.8" cy="149.2" rx="5.1" ry="3.6" fill="#e1e1e1"/>
<ellipse cx="494.6" cy="146.6" rx="7.7" ry="4.2" fill="#fdfdfd"/>
<ellipse cx="447.3" cy="159.1" rx="7.1" ry="4.1" fill="#d6d6d6"/>
<ellipse cx="460.1" cy="161.8" rx="7.7" ry="4.8" fill="#d7d7d7"/>
<ellipse cx="470.3" cy="161.8" rx="6.4" ry="5.4" fill="#e6e6e6"/>
<ellipse cx="480.5" cy="161.7" rx="6.3" ry="4.5" fill="#dedede"/>
<ellipse cx="493.5" cy="161.1" rx="7.2" ry="5.1" fill="#efefef"/>
<ellipse cx="447.6" cy="170.8" rx="6.1" ry="5.1" fill="#dedede"/>
<ellipse cx="460.4" cy="170.6" rx="5.7" ry="3.6" fill="#ededed"/>
<ellipse cx="471.0" cy="174.5" rx="7.9" ry="5.3" fill="#e1e1e1"/>
<ellipse cx="480.4" cy="173.3" rx="5.3" ry="4.5" fill="#e8e8e8"/>
<ellipse cx="490.6" cy="173.2" rx="6.3" ry="4.7" fill="#f5f5f5"/>
<path d="M427,15.0 L436,14.5 L433,20.5 Z" fill="#1a1a1a"/>
<path d="M457,15.0 L466,14.5 L463,20.5 Z" fill="#1a1a1a"/>
<path d="M447.5,29.3 L456.5,28.8 L453.5,34.8 Z" fill="#1a1a1a"/>
<path d="M446.4,43.5 L455.4,43 L452.4,49 Z" fill="#1a1a1a"/>
<path d="M475,41.1 L484,40.6 L481,46.6 Z" fill="#1a1a1a"/>
<path d="M446,55.5 L455,55 L452,61 Z" fill="#1a1a1a"/>
<path d="M445,70.5 L454,70 L451,76 Z" fill="#1a1a1a"/>
<path d="M472.5,64.5 L481.5,64 L478.5,70 Z" fill="#1a1a1a"/>
<path d="M444.5,97.5 L453.5,97 L450.5,103 Z" fill="#1a1a1a"/>
<path d="M442,112.3 L451,111.8 L448,117.8 Z" fill="#1a1a1a"/>
<path d="M447,125.5 L456,125 L453,131 Z" fill="#1a1a1a"/>
<path d="M449,151.2 L458,150.7 L455,156.7 Z" fill="#1a1a1a"/>
<path d="M447,163.5 L456,163 L453,169 Z" fill="#1a1a1a"/>
<path d="M447,84.5 L456,84 L453,90 Z" fill="#1a1a1a"/>
<path d="M447,137.5 L456,137 L453,143 Z" fill="#1a1a1a"/>
<path d="M465,107.5 L474,107 L471,113 Z" fill="#1a1a1a"/>
<path d="M467,147.5 L476,147 L473,153 Z" fill="#1a1a1a"/>
<path d="M461,122.5 L470,122 L467,128 Z" fill="#1a1a1a"/>
<rect x="267" y="3" width="21" height="174" fill="#dbdbdb" fill-opacity="0.7"/>
<rect x="486" y="3" width="10" height="174" fill="#b8b8b8" fill-opacity="0.6"/>
</g>
</g>
<line x1="287" y1="86" x2="483" y2="86" stroke="#22e8e0" stroke-width="1.6"/>
<rect x="287.2" y="86" width="195.8" height="77.3" fill="none" stroke="#1fd6d0" stroke-width="0.9"/>
<line x1="287.2" y1="134.3" x2="483" y2="134.3" stroke="#1fd6d0" stroke-width="0.9"/>
<polyline points="287.5,134.5 309,141 335,146.5 361,151.5 385,154.5 406,157 432,160.5 450,163 458,162.6 466,160.8 484,158.7" fill="none" stroke="#1fd6d0" stroke-width="0.9"/>
<path d="M285,84 L289,88 M289,84 L285,88 M481,84 L485,88 M485,84 L481,88" stroke="#22e8e0" stroke-width="1"/>
<rect x="287.2" y="126.7" width="45.3" height="8" fill="#ffffff"/>
<text x="288.3" y="133.9" font-size="8.6" fill="#000" font-weight="bold">2353.40µm</text>
<rect x="287.2" y="164.6" width="44.6" height="8" fill="#ffffff"/>
<text x="292" y="171.8" font-size="8.6" fill="#000" font-weight="bold">76.17µm</text>
<g clip-path="url(#clip4)">
<g filter="url(#tex4b)">
<rect x="758.6" y="-1.4000000000000004" width="239.2" height="183.4" fill="#808080"/>
<ellipse cx="767.1" cy="11.0" rx="11.4" ry="6.8" fill="#cfcfcf"/>
<ellipse cx="764.9" cy="9.0" rx="6.2" ry="3.1" fill="#f5f5f5"/>
<ellipse cx="788.0" cy="12.5" rx="9.1" ry="5.8" fill="#dadada"/>
<ellipse cx="786.2" cy="10.7" rx="5.0" ry="2.6" fill="#ffffff"/>
<ellipse cx="803.9" cy="12.0" rx="9.8" ry="4.7" fill="#e7e7e7"/>
<ellipse cx="802.0" cy="10.5" rx="5.4" ry="2.1" fill="#ffffff"/>
<ellipse cx="819.4" cy="11.6" rx="13.9" ry="6.9" fill="#dcdcdc"/>
<ellipse cx="816.6" cy="9.5" rx="7.6" ry="3.1" fill="#ffffff"/>
<ellipse cx="835.9" cy="9.5" rx="8.1" ry="5.8" fill="#b2b2b2"/>
<ellipse cx="834.3" cy="7.7" rx="4.4" ry="2.6" fill="#d8d8d8"/>
<ellipse cx="853.4" cy="12.7" rx="8.2" ry="5.7" fill="#cdcdcd"/>
<ellipse cx="851.7" cy="11.0" rx="4.5" ry="2.5" fill="#f3f3f3"/>
<ellipse cx="873.5" cy="10.8" rx="11.8" ry="5.7" fill="#dddddd"/>
<ellipse cx="871.2" cy="9.1" rx="6.5" ry="2.6" fill="#ffffff"/>
<ellipse cx="891.3" cy="12.0" rx="14.0" ry="7.0" fill="#e9e9e9"/>
<ellipse cx="888.5" cy="9.9" rx="7.7" ry="3.1" fill="#ffffff"/>
<ellipse cx="909.5" cy="12.3" rx="9.4" ry="5.2" fill="#b2b2b2"/>
<ellipse cx="907.6" cy="10.8" rx="5.2" ry="2.4" fill="#d9d9d9"/>
<ellipse cx="928.5" cy="12.7" rx="13.1" ry="5.5" fill="#f2f2f2"/>
<ellipse cx="925.9" cy="11.1" rx="7.2" ry="2.5" fill="#ffffff"/>
<ellipse cx="943.5" cy="13.4" rx="9.3" ry="6.8" fill="#cfcfcf"/>
<ellipse cx="941.6" cy="11.4" rx="5.1" ry="3.0" fill="#f5f5f5"/>
<ellipse cx="962.5" cy="9.8" rx="8.4" ry="6.1" fill="#e5e5e5"/>
<ellipse cx="960.8" cy="8.0" rx="4.6" ry="2.7" fill="#ffffff"/>
<ellipse cx="978.3" cy="9.1" rx="10.0" ry="6.9" fill="#e4e4e4"/>
<ellipse cx="976.3" cy="7.0" rx="5.5" ry="3.1" fill="#ffffff"/>
<ellipse cx="995.8" cy="9.4" rx="8.6" ry="4.6" fill="#e6e6e6"/>
<ellipse cx="994.1" cy="8.0" rx="4.7" ry="2.1" fill="#ffffff"/>
<ellipse cx="767.1" cy="25.0" rx="9.1" ry="6.3" fill="#b7b7b7"/>
<ellipse cx="765.2" cy="23.1" rx="5.0" ry="2.8" fill="#dddddd"/>
<ellipse cx="783.2" cy="26.7" rx="10.5" ry="5.0" fill="#c1c1c1"/>
<ellipse cx="781.1" cy="25.1" rx="5.8" ry="2.3" fill="#e7e7e7"/>
<ellipse cx="806.3" cy="23.8" rx="9.8" ry="6.7" fill="#bcbcbc"/>
<ellipse cx="804.3" cy="21.8" rx="5.4" ry="3.0" fill="#e3e3e3"/>
<ellipse cx="829.8" cy="22.9" rx="11.9" ry="4.8" fill="#f4f4f4"/>
<ellipse cx="827.4" cy="21.4" rx="6.5" ry="2.1" fill="#ffffff"/>
<ellipse cx="847.4" cy="22.2" rx="12.6" ry="5.3" fill="#c3c3c3"/>
<ellipse cx="844.9" cy="20.6" rx="6.9" ry="2.4" fill="#e9e9e9"/>
<ellipse cx="863.3" cy="23.7" rx="11.5" ry="5.1" fill="#d8d8d8"/>
<ellipse cx="861.0" cy="22.1" rx="6.3" ry="2.3" fill="#ffffff"/>
<ellipse cx="882.8" cy="26.1" rx="13.8" ry="5.7" fill="#d6d6d6"/>
<ellipse cx="880.1" cy="24.4" rx="7.6" ry="2.6" fill="#fdfdfd"/>
<ellipse cx="899.7" cy="23.0" rx="8.9" ry="6.8" fill="#e8e8e8"/>
<ellipse cx="897.9" cy="21.0" rx="4.9" ry="3.0" fill="#ffffff"/>
<ellipse cx="916.6" cy="26.6" rx="12.4" ry="6.9" fill="#bbbbbb"/>
<ellipse cx="914.1" cy="24.5" rx="6.8" ry="3.1" fill="#e2e2e2"/>
<ellipse cx="940.4" cy="22.0" rx="11.6" ry="5.6" fill="#b5b5b5"/>
<ellipse cx="938.1" cy="20.3" rx="6.4" ry="2.5" fill="#dbdbdb"/>
<ellipse cx="965.0" cy="25.9" rx="9.4" ry="6.3" fill="#c0c0c0"/>
<ellipse cx="963.1" cy="24.0" rx="5.2" ry="2.8" fill="#e6e6e6"/>
<ellipse cx="986.0" cy="22.1" rx="9.8" ry="4.9" fill="#e1e1e1"/>
<ellipse cx="984.0" cy="20.7" rx="5.4" ry="2.2" fill="#ffffff"/>
<ellipse cx="768.2" cy="39.7" rx="13.1" ry="6.0" fill="#c1c1c1"/>
<ellipse cx="765.6" cy="37.9" rx="7.2" ry="2.7" fill="#e8e8e8"/>
<ellipse cx="785.2" cy="35.4" rx="8.1" ry="5.2" fill="#cdcdcd"/>
<ellipse cx="783.6" cy="33.9" rx="4.5" ry="2.3" fill="#f3f3f3"/>
<ellipse cx="802.0" cy="36.9" rx="10.2" ry="5.9" fill="#b7b7b7"/>
<ellipse cx="800.0" cy="35.1" rx="5.6" ry="2.7" fill="#dddddd"/>
<ellipse cx="825.9" cy="38.0" rx="13.9" ry="6.1" fill="#dfdfdf"/>
<ellipse cx="823.1" cy="36.2" rx="7.6" ry="2.8" fill="#ffffff"/>
<ellipse cx="842.3" cy="38.6" rx="8.2" ry="4.5" fill="#eeeeee"/>
<ellipse cx="840.7" cy="37.2" rx="4.5" ry="2.0" fill="#ffffff"/>
<ellipse cx="866.9" cy="38.8" rx="8.1" ry="6.1" fill="#d0d0d0"/>
<ellipse cx="865.3" cy="36.9" rx="4.5" ry="2.7" fill="#f6f6f6"/>
<ellipse cx="885.1" cy="38.8" rx="14.0" ry="4.7" fill="#d4d4d4"/>
<ellipse cx="882.3" cy="37.4" rx="7.7" ry="2.1" fill="#fbfbfb"/>
<ellipse cx="909.1" cy="39.7" rx="12.4" ry="6.3" fill="#e6e6e6"/>
<ellipse cx="906.6" cy="37.8" rx="6.8" ry="2.8" fill="#ffffff"/>
<ellipse cx="927.6" cy="37.2" rx="12.1" ry="6.8" fill="#ececec"/>
<ellipse cx="925.2" cy="35.2" rx="6.7" ry="3.0" fill="#ffffff"/>
<ellipse cx="950.6" cy="37.0" rx="13.2" ry="5.9" fill="#dadada"/>
<ellipse cx="947.9" cy="35.2" rx="7.2" ry="2.7" fill="#ffffff"/>
<ellipse cx="971.4" cy="40.1" rx="11.7" ry="4.7" fill="#dbdbdb"/>
<ellipse cx="969.0" cy="38.7" rx="6.4" ry="2.1" fill="#ffffff"/>
<ellipse cx="995.2" cy="38.0" rx="12.4" ry="5.5" fill="#e2e2e2"/>
<ellipse cx="992.7" cy="36.4" rx="6.8" ry="2.5" fill="#ffffff"/>
<ellipse cx="771.0" cy="51.4" rx="8.5" ry="6.4" fill="#b0b0b0"/>
<ellipse cx="769.3" cy="49.5" rx="4.7" ry="2.9" fill="#d6d6d6"/>
<ellipse cx="790.8" cy="51.5" rx="9.4" ry="6.2" fill="#d1d1d1"/>
<ellipse cx="788.9" cy="49.6" rx="5.2" ry="2.8" fill="#f7f7f7"/>
<ellipse cx="815.0" cy="51.8" rx="9.5" ry="4.5" fill="#c3c3c3"/>
<ellipse cx="813.1" cy="50.4" rx="5.2" ry="2.0" fill="#e9e9e9"/>
<ellipse cx="832.0" cy="50.6" rx="9.0" ry="6.8" fill="#dddddd"/>
<ellipse cx="830.2" cy="48.6" rx="5.0" ry="3.0" fill="#ffffff"/>
<ellipse cx="855.9" cy="50.6" rx="10.0" ry="6.2" fill="#bcbcbc"/>
<ellipse cx="853.9" cy="48.7" rx="5.5" ry="2.8" fill="#e2e2e2"/>
<ellipse cx="879.0" cy="51.3" rx="13.5" ry="6.7" fill="#c9c9c9"/>
<ellipse cx="876.3" cy="49.3" rx="7.4" ry="3.0" fill="#efefef"/>
<ellipse cx="897.2" cy="52.6" rx="8.8" ry="5.7" fill="#e9e9e9"/>
<ellipse cx="895.4" cy="50.9" rx="4.8" ry="2.6" fill="#ffffff"/>
<ellipse cx="919.3" cy="50.7" rx="13.7" ry="5.2" fill="#b9b9b9"/>
<ellipse cx="916.5" cy="49.1" rx="7.5" ry="2.3" fill="#e0e0e0"/>
<ellipse cx="937.0" cy="50.9" rx="9.3" ry="5.5" fill="#dadada"/>
<ellipse cx="935.2" cy="49.2" rx="5.1" ry="2.5" fill="#ffffff"/>
<ellipse cx="955.2" cy="48.8" rx="13.0" ry="7.0" fill="#cecece"/>
<ellipse cx="952.6" cy="46.7" rx="7.2" ry="3.1" fill="#f4f4f4"/>
<ellipse cx="970.5" cy="51.3" rx="13.2" ry="4.6" fill="#e0e0e0"/>
<ellipse cx="967.9" cy="49.9" rx="7.3" ry="2.1" fill="#ffffff"/>
<ellipse cx="988.6" cy="50.7" rx="12.7" ry="4.5" fill="#b7b7b7"/>
<ellipse cx="986.0" cy="49.3" rx="7.0" ry="2.0" fill="#dddddd"/>
<ellipse cx="770.9" cy="64.8" rx="9.4" ry="4.9" fill="#b1b1b1"/>
<ellipse cx="769.0" cy="63.4" rx="5.2" ry="2.2" fill="#d7d7d7"/>
<ellipse cx="790.4" cy="66.5" rx="11.8" ry="6.1" fill="#e7e7e7"/>
<ellipse cx="788.0" cy="64.7" rx="6.5" ry="2.8" fill="#ffffff"/>
<ellipse cx="812.2" cy="61.8" rx="9.2" ry="5.7" fill="#bababa"/>
<ellipse cx="810.4" cy="60.0" rx="5.1" ry="2.6" fill="#e0e0e0"/>
<ellipse cx="831.9" cy="63.4" rx="12.3" ry="4.9" fill="#c1c1c1"/>
<ellipse cx="829.5" cy="61.9" rx="6.8" ry="2.2" fill="#e7e7e7"/>
<ellipse cx="853.9" cy="63.7" rx="11.1" ry="6.0" fill="#e3e3e3"/>
<ellipse cx="851.7" cy="61.9" rx="6.1" ry="2.7" fill="#ffffff"/>
<ellipse cx="876.8" cy="65.3" rx="13.4" ry="4.7" fill="#f0f0f0"/>
<ellipse cx="874.1" cy="63.9" rx="7.4" ry="2.1" fill="#ffffff"/>
<ellipse cx="893.1" cy="63.6" rx="10.7" ry="6.1" fill="#eeeeee"/>
<ellipse cx="891.0" cy="61.8" rx="5.9" ry="2.7" fill="#ffffff"/>
<ellipse cx="913.8" cy="64.0" rx="13.3" ry="6.5" fill="#f1f1f1"/>
<ellipse cx="911.2" cy="62.1" rx="7.3" ry="2.9" fill="#ffffff"/>
<ellipse cx="935.3" cy="64.9" rx="9.2" ry="6.3" fill="#e8e8e8"/>
<ellipse cx="933.5" cy="63.0" rx="5.1" ry="2.8" fill="#ffffff"/>
<ellipse cx="957.5" cy="66.6" rx="9.3" ry="6.7" fill="#f3f3f3"/>
<ellipse cx="955.6" cy="64.6" rx="5.1" ry="3.0" fill="#ffffff"/>
<ellipse cx="977.9" cy="66.0" rx="12.7" ry="5.3" fill="#eeeeee"/>
<ellipse cx="975.3" cy="64.4" rx="7.0" ry="2.4" fill="#ffffff"/>
<ellipse cx="763.4" cy="77.4" rx="10.6" ry="5.9" fill="#e4e4e4"/>
<ellipse cx="761.3" cy="75.7" rx="5.9" ry="2.6" fill="#ffffff"/>
<ellipse cx="778.7" cy="75.9" rx="12.9" ry="4.7" fill="#e7e7e7"/>
<ellipse cx="776.1" cy="74.5" rx="7.1" ry="2.1" fill="#ffffff"/>
<ellipse cx="797.1" cy="77.6" rx="12.7" ry="4.9" fill="#b8b8b8"/>
<ellipse cx="794.5" cy="76.1" rx="7.0" ry="2.2" fill="#dedede"/>
<ellipse cx="819.3" cy="77.5" rx="13.0" ry="6.2" fill="#f1f1f1"/>
<ellipse cx="816.7" cy="75.6" rx="7.2" ry="2.8" fill="#ffffff"/>
<ellipse cx="843.8" cy="76.5" rx="8.5" ry="5.1" fill="#d3d3d3"/>
<ellipse cx="842.1" cy="74.9" rx="4.7" ry="2.3" fill="#f9f9f9"/>
<ellipse cx="866.1" cy="77.8" rx="11.8" ry="5.8" fill="#eaeaea"/>
<ellipse cx="863.7" cy="76.1" rx="6.5" ry="2.6" fill="#ffffff"/>
<ellipse cx="884.2" cy="76.0" rx="10.3" ry="6.6" fill="#eeeeee"/>
<ellipse cx="882.1" cy="74.1" rx="5.7" ry="3.0" fill="#ffffff"/>
<ellipse cx="907.7" cy="76.0" rx="13.8" ry="5.8" fill="#d6d6d6"/>
<ellipse cx="904.9" cy="74.3" rx="7.6" ry="2.6" fill="#fdfdfd"/>
<ellipse cx="928.1" cy="79.8" rx="11.0" ry="6.0" fill="#afafaf"/>
<ellipse cx="925.9" cy="78.0" rx="6.1" ry="2.7" fill="#d6d6d6"/>
<ellipse cx="948.2" cy="77.5" rx="10.4" ry="6.5" fill="#d6d6d6"/>
<ellipse cx="946.1" cy="75.5" rx="5.7" ry="2.9" fill="#fcfcfc"/>
<ellipse cx="970.1" cy="79.8" rx="8.4" ry="5.8" fill="#cbcbcb"/>
<ellipse cx="968.5" cy="78.0" rx="4.6" ry="2.6" fill="#f1f1f1"/>
<ellipse cx="994.4" cy="77.2" rx="9.6" ry="5.7" fill="#b6b6b6"/>
<ellipse cx="992.4" cy="75.5" rx="5.3" ry="2.6" fill="#dddddd"/>
<ellipse cx="771.6" cy="91.4" rx="10.9" ry="5.3" fill="#bbbbbb"/>
<ellipse cx="769.4" cy="89.8" rx="6.0" ry="2.4" fill="#e1e1e1"/>
<ellipse cx="795.9" cy="89.3" rx="8.8" ry="6.4" fill="#afafaf"/>
<ellipse cx="794.1" cy="87.3" rx="4.8" ry="2.9" fill="#d5d5d5"/>
<ellipse cx="813.1" cy="91.4" rx="12.1" ry="5.3" fill="#c7c7c7"/>
<ellipse cx="810.7" cy="89.8" rx="6.7" ry="2.4" fill="#ededed"/>
<ellipse cx="829.2" cy="89.6" rx="12.4" ry="4.8" fill="#d2d2d2"/>
<ellipse cx="826.7" cy="88.1" rx="6.8" ry="2.2" fill="#f8f8f8"/>
<ellipse cx="846.2" cy="90.4" rx="11.2" ry="5.6" fill="#c8c8c8"/>
<ellipse cx="843.9" cy="88.7" rx="6.2" ry="2.5" fill="#eeeeee"/>
<ellipse cx="866.5" cy="91.5" rx="9.0" ry="5.0" fill="#dadada"/>
<ellipse cx="864.7" cy="90.0" rx="4.9" ry="2.3" fill="#ffffff"/>
<ellipse cx="886.7" cy="89.5" rx="13.1" ry="6.0" fill="#ebebeb"/>
<ellipse cx="884.1" cy="87.7" rx="7.2" ry="2.7" fill="#ffffff"/>
<ellipse cx="909.2" cy="89.9" rx="12.9" ry="6.8" fill="#c4c4c4"/>
<ellipse cx="906.6" cy="87.8" rx="7.1" ry="3.0" fill="#eaeaea"/>
<ellipse cx="933.4" cy="89.0" rx="9.3" ry="7.0" fill="#ededed"/>
<ellipse cx="931.5" cy="86.9" rx="5.1" ry="3.1" fill="#ffffff"/>
<ellipse cx="950.8" cy="92.5" rx="12.4" ry="5.1" fill="#b4b4b4"/>
<ellipse cx="948.3" cy="90.9" rx="6.8" ry="2.3" fill="#dbdbdb"/>
<ellipse cx="970.0" cy="91.7" rx="12.7" ry="4.8" fill="#cacaca"/>
<ellipse cx="967.4" cy="90.3" rx="7.0" ry="2.2" fill="#f0f0f0"/>
<ellipse cx="985.2" cy="93.1" rx="9.2" ry="6.2" fill="#eeeeee"/>
<ellipse cx="983.3" cy="91.3" rx="5.1" ry="2.8" fill="#ffffff"/>
<ellipse cx="767.7" cy="102.5" rx="12.5" ry="5.8" fill="#dedede"/>
<ellipse cx="765.1" cy="100.8" rx="6.9" ry="2.6" fill="#ffffff"/>
<ellipse cx="783.4" cy="104.2" rx="8.6" ry="4.6" fill="#d5d5d5"/>
<ellipse cx="781.6" cy="102.8" rx="4.8" ry="2.1" fill="#fbfbfb"/>
<ellipse cx="804.0" cy="105.8" rx="8.9" ry="5.0" fill="#bcbcbc"/>
<ellipse cx="802.3" cy="104.3" rx="4.9" ry="2.2" fill="#e2e2e2"/>
<ellipse cx="829.0" cy="106.4" rx="13.6" ry="4.7" fill="#b2b2b2"/>
<ellipse cx="826.2" cy="104.9" rx="7.5" ry="2.1" fill="#d8d8d8"/>
<ellipse cx="848.6" cy="104.2" rx="12.6" ry="5.3" fill="#cfcfcf"/>
<ellipse cx="846.1" cy="102.6" rx="6.9" ry="2.4" fill="#f5f5f5"/>
<ellipse cx="867.9" cy="105.8" rx="11.6" ry="4.5" fill="#dfdfdf"/>
<ellipse cx="865.6" cy="104.5" rx="6.4" ry="2.0" fill="#ffffff"/>
<ellipse cx="884.7" cy="102.6" rx="10.7" ry="6.3" fill="#cacaca"/>
<ellipse cx="882.5" cy="100.7" rx="5.9" ry="2.9" fill="#f1f1f1"/>
<ellipse cx="901.3" cy="105.6" rx="11.1" ry="4.5" fill="#ededed"/>
<ellipse cx="899.1" cy="104.2" rx="6.1" ry="2.0" fill="#ffffff"/>
<ellipse cx="923.4" cy="104.6" rx="13.2" ry="6.1" fill="#cacaca"/>
<ellipse cx="920.8" cy="102.8" rx="7.2" ry="2.7" fill="#f1f1f1"/>
<ellipse cx="943.4" cy="106.2" rx="13.9" ry="6.5" fill="#c0c0c0"/>
<ellipse cx="940.6" cy="104.2" rx="7.6" ry="2.9" fill="#e6e6e6"/>
<ellipse cx="965.9" cy="106.1" rx="12.7" ry="6.5" fill="#cacaca"/>
<ellipse cx="963.3" cy="104.1" rx="7.0" ry="2.9" fill="#f1f1f1"/>
<ellipse cx="989.7" cy="103.6" rx="12.2" ry="6.4" fill="#e4e4e4"/>
<ellipse cx="987.2" cy="101.7" rx="6.7" ry="2.9" fill="#ffffff"/>
<ellipse cx="763.3" cy="116.7" rx="10.1" ry="5.7" fill="#aeaeae"/>
<ellipse cx="761.3" cy="115.0" rx="5.5" ry="2.6" fill="#d4d4d4"/>
<ellipse cx="784.7" cy="118.2" rx="11.7" ry="5.1" fill="#f1f1f1"/>
<ellipse cx="782.3" cy="116.7" rx="6.5" ry="2.3" fill="#ffffff"/>
<ellipse cx="803.1" cy="116.8" rx="12.0" ry="5.9" fill="#d3d3d3"/>
<ellipse cx="800.7" cy="115.1" rx="6.6" ry="2.7" fill="#fafafa"/>
<ellipse cx="828.1" cy="119.8" rx="11.9" ry="6.3" fill="#e4e4e4"/>
<ellipse cx="825.7" cy="117.9" rx="6.5" ry="2.8" fill="#ffffff"/>
<ellipse cx="843.3" cy="116.9" rx="11.7" ry="6.3" fill="#c0c0c0"/>
<ellipse cx="841.0" cy="115.0" rx="6.4" ry="2.9" fill="#e6e6e6"/>
<ellipse cx="858.8" cy="116.2" rx="9.2" ry="5.4" fill="#b4b4b4"/>
<ellipse cx="857.0" cy="114.5" rx="5.0" ry="2.4" fill="#dbdbdb"/>
<ellipse cx="882.9" cy="117.7" rx="11.3" ry="5.8" fill="#f2f2f2"/>
<ellipse cx="880.6" cy="116.0" rx="6.2" ry="2.6" fill="#ffffff"/>
<ellipse cx="907.8" cy="117.9" rx="11.8" ry="6.5" fill="#b3b3b3"/>
<ellipse cx="905.4" cy="115.9" rx="6.5" ry="2.9" fill="#d9d9d9"/>
<ellipse cx="930.4" cy="117.3" rx="8.3" ry="6.8" fill="#b9b9b9"/>
<ellipse cx="928.7" cy="115.2" rx="4.5" ry="3.1" fill="#dfdfdf"/>
<ellipse cx="947.1" cy="119.6" rx="11.0" ry="6.0" fill="#b2b2b2"/>
<ellipse cx="944.9" cy="117.8" rx="6.0" ry="2.7" fill="#d8d8d8"/>
<ellipse cx="966.3" cy="116.3" rx="11.2" ry="6.0" fill="#c8c8c8"/>
<ellipse cx="964.1" cy="114.5" rx="6.1" ry="2.7" fill="#eeeeee"/>
<ellipse cx="987.9" cy="116.4" rx="11.4" ry="5.2" fill="#e1e1e1"/>
<ellipse cx="985.6" cy="114.8" rx="6.3" ry="2.3" fill="#ffffff"/>
<ellipse cx="765.1" cy="130.1" rx="8.3" ry="4.9" fill="#e3e3e3"/>
<ellipse cx="763.4" cy="128.7" rx="4.5" ry="2.2" fill="#ffffff"/>
<ellipse cx="789.0" cy="132.9" rx="12.5" ry="4.6" fill="#f4f4f4"/>
<ellipse cx="786.5" cy="131.5" rx="6.9" ry="2.1" fill="#ffffff"/>
<ellipse cx="804.8" cy="133.1" rx="13.4" ry="5.6" fill="#d0d0d0"/>
<ellipse cx="802.1" cy="131.4" rx="7.4" ry="2.5" fill="#f6f6f6"/>
<ellipse cx="822.2" cy="130.5" rx="11.1" ry="6.8" fill="#e1e1e1"/>
<ellipse cx="820.0" cy="128.5" rx="6.1" ry="3.1" fill="#ffffff"/>
<ellipse cx="847.0" cy="131.3" rx="12.9" ry="6.0" fill="#b6b6b6"/>
<ellipse cx="844.4" cy="129.5" rx="7.1" ry="2.7" fill="#dcdcdc"/>
<ellipse cx="866.5" cy="128.8" rx="9.2" ry="4.6" fill="#d3d3d3"/>
<ellipse cx="864.7" cy="127.4" rx="5.1" ry="2.1" fill="#f9f9f9"/>
<ellipse cx="886.0" cy="131.1" rx="12.0" ry="5.6" fill="#c0c0c0"/>
<ellipse cx="883.6" cy="129.4" rx="6.6" ry="2.5" fill="#e6e6e6"/>
<ellipse cx="905.2" cy="133.0" rx="12.7" ry="5.8" fill="#f5f5f5"/>
<ellipse cx="902.6" cy="131.2" rx="7.0" ry="2.6" fill="#ffffff"/>
<ellipse cx="927.5" cy="132.1" rx="9.4" ry="4.8" fill="#ededed"/>
<ellipse cx="925.6" cy="130.7" rx="5.2" ry="2.2" fill="#ffffff"/>
<ellipse cx="948.8" cy="131.0" rx="10.2" ry="5.2" fill="#dedede"/>
<ellipse cx="946.7" cy="129.5" rx="5.6" ry="2.3" fill="#ffffff"/>
<ellipse cx="969.7" cy="129.4" rx="11.8" ry="6.4" fill="#bbbbbb"/>
<ellipse cx="967.3" cy="127.5" rx="6.5" ry="2.9" fill="#e1e1e1"/>
<ellipse cx="994.5" cy="128.5" rx="13.5" ry="6.7" fill="#b0b0b0"/>
<ellipse cx="991.8" cy="126.5" rx="7.4" ry="3.0" fill="#d6d6d6"/>
<ellipse cx="766.9" cy="141.9" rx="11.7" ry="4.8" fill="#d4d4d4"/>
<ellipse cx="764.5" cy="140.4" rx="6.5" ry="2.1" fill="#fafafa"/>
<ellipse cx="782.7" cy="143.4" rx="12.1" ry="5.9" fill="#dadada"/>
<ellipse cx="780.3" cy="141.6" rx="6.6" ry="2.6" fill="#ffffff"/>
<ellipse cx="802.5" cy="145.7" rx="9.3" ry="5.4" fill="#e3e3e3"/>
<ellipse cx="800.6" cy="144.1" rx="5.1" ry="2.4" fill="#ffffff"/>
<ellipse cx="818.2" cy="145.3" rx="8.7" ry="6.5" fill="#dadada"/>
<ellipse cx="816.5" cy="143.4" rx="4.8" ry="2.9" fill="#ffffff"/>
<ellipse cx="835.4" cy="143.3" rx="10.5" ry="5.1" fill="#e7e7e7"/>
<ellipse cx="833.3" cy="141.8" rx="5.8" ry="2.3" fill="#ffffff"/>
<ellipse cx="856.9" cy="145.2" rx="13.9" ry="5.3" fill="#d5d5d5"/>
<ellipse cx="854.1" cy="143.6" rx="7.7" ry="2.4" fill="#fbfbfb"/>
<ellipse cx="881.1" cy="145.9" rx="10.6" ry="5.4" fill="#b4b4b4"/>
<ellipse cx="879.0" cy="144.2" rx="5.8" ry="2.4" fill="#dbdbdb"/>
<ellipse cx="896.9" cy="144.9" rx="8.5" ry="5.9" fill="#d0d0d0"/>
<ellipse cx="895.2" cy="143.2" rx="4.7" ry="2.7" fill="#f6f6f6"/>
<ellipse cx="914.9" cy="144.8" rx="12.7" ry="4.7" fill="#bdbdbd"/>
<ellipse cx="912.4" cy="143.4" rx="7.0" ry="2.1" fill="#e3e3e3"/>
<ellipse cx="930.7" cy="142.9" rx="9.8" ry="6.3" fill="#dfdfdf"/>
<ellipse cx="928.7" cy="141.0" rx="5.4" ry="2.8" fill="#ffffff"/>
<ellipse cx="947.1" cy="142.1" rx="10.1" ry="6.3" fill="#c8c8c8"/>
<ellipse cx="945.1" cy="140.2" rx="5.6" ry="2.8" fill="#eeeeee"/>
<ellipse cx="969.2" cy="146.1" rx="11.4" ry="6.8" fill="#f1f1f1"/>
<ellipse cx="967.0" cy="144.0" rx="6.3" ry="3.1" fill="#ffffff"/>
<ellipse cx="988.6" cy="143.5" rx="12.8" ry="5.3" fill="#c4c4c4"/>
<ellipse cx="986.1" cy="141.9" rx="7.1" ry="2.4" fill="#eaeaea"/>
<ellipse cx="771.5" cy="156.6" rx="9.5" ry="5.4" fill="#c8c8c8"/>
<ellipse cx="769.6" cy="155.0" rx="5.2" ry="2.4" fill="#eeeeee"/>
<ellipse cx="790.5" cy="158.8" rx="10.3" ry="5.0" fill="#d6d6d6"/>
<ellipse cx="788.4" cy="157.3" rx="5.7" ry="2.2" fill="#fcfcfc"/>
<ellipse cx="810.9" cy="158.6" rx="13.0" ry="5.9" fill="#bababa"/>
<ellipse cx="808.3" cy="156.8" rx="7.2" ry="2.7" fill="#e0e0e0"/>
<ellipse cx="834.7" cy="157.5" rx="9.7" ry="4.6" fill="#d2d2d2"/>
<ellipse cx="832.8" cy="156.2" rx="5.3" ry="2.1" fill="#f8f8f8"/>
<ellipse cx="855.4" cy="155.1" rx="13.8" ry="6.1" fill="#e7e7e7"/>
<ellipse cx="852.6" cy="153.3" rx="7.6" ry="2.8" fill="#ffffff"/>
<ellipse cx="875.9" cy="158.5" rx="12.7" ry="4.7" fill="#b3b3b3"/>
<ellipse cx="873.3" cy="157.1" rx="7.0" ry="2.1" fill="#d9d9d9"/>
<ellipse cx="899.9" cy="158.5" rx="8.5" ry="6.1" fill="#b8b8b8"/>
<ellipse cx="898.1" cy="156.7" rx="4.7" ry="2.7" fill="#dedede"/>
<ellipse cx="921.3" cy="157.4" rx="9.5" ry="5.1" fill="#e4e4e4"/>
<ellipse cx="919.4" cy="155.9" rx="5.2" ry="2.3" fill="#ffffff"/>
<ellipse cx="944.0" cy="158.2" rx="10.4" ry="5.3" fill="#f3f3f3"/>
<ellipse cx="941.9" cy="156.6" rx="5.7" ry="2.4" fill="#ffffff"/>
<ellipse cx="963.9" cy="159.4" rx="11.2" ry="6.3" fill="#e0e0e0"/>
<ellipse cx="961.7" cy="157.5" rx="6.2" ry="2.8" fill="#ffffff"/>
<ellipse cx="983.0" cy="158.8" rx="13.0" ry="6.2" fill="#eaeaea"/>
<ellipse cx="980.4" cy="157.0" rx="7.1" ry="2.8" fill="#ffffff"/>
<ellipse cx="771.5" cy="171.7" rx="13.7" ry="6.1" fill="#d3d3d3"/>
<ellipse cx="768.7" cy="169.8" rx="7.6" ry="2.7" fill="#f9f9f9"/>
<ellipse cx="794.5" cy="171.8" rx="10.5" ry="5.6" fill="#b8b8b8"/>
<ellipse cx="792.4" cy="170.1" rx="5.8" ry="2.5" fill="#dedede"/>
<ellipse cx="819.4" cy="170.2" rx="10.3" ry="4.9" fill="#bcbcbc"/>
<ellipse cx="817.4" cy="168.7" rx="5.6" ry="2.2" fill="#e2e2e2"/>
<ellipse cx="837.3" cy="168.7" rx="13.8" ry="4.6" fill="#c3c3c3"/>
<ellipse cx="834.6" cy="167.3" rx="7.6" ry="2.1" fill="#eaeaea"/>
<ellipse cx="858.8" cy="170.4" rx="12.7" ry="4.9" fill="#b2b2b2"/>
<ellipse cx="856.3" cy="168.9" rx="7.0" ry="2.2" fill="#d8d8d8"/>
<ellipse cx="879.7" cy="169.0" rx="13.5" ry="4.6" fill="#b5b5b5"/>
<ellipse cx="877.0" cy="167.6" rx="7.4" ry="2.1" fill="#dbdbdb"/>
<ellipse cx="896.8" cy="169.2" rx="9.4" ry="6.3" fill="#d8d8d8"/>
<ellipse cx="895.0" cy="167.3" rx="5.2" ry="2.8" fill="#fefefe"/>
<ellipse cx="913.7" cy="169.7" rx="9.7" ry="4.9" fill="#e3e3e3"/>
<ellipse cx="911.7" cy="168.2" rx="5.3" ry="2.2" fill="#ffffff"/>
<ellipse cx="934.2" cy="172.5" rx="12.9" ry="5.7" fill="#c0c0c0"/>
<ellipse cx="931.6" cy="170.8" rx="7.1" ry="2.6" fill="#e6e6e6"/>
<ellipse cx="958.3" cy="170.5" rx="10.1" ry="5.9" fill="#f2f2f2"/>
<ellipse cx="956.3" cy="168.8" rx="5.5" ry="2.6" fill="#ffffff"/>
<ellipse cx="975.5" cy="170.0" rx="8.3" ry="6.9" fill="#e7e7e7"/>
<ellipse cx="973.9" cy="168.0" rx="4.6" ry="3.1" fill="#ffffff"/>
<ellipse cx="995.8" cy="171.4" rx="11.1" ry="5.2" fill="#f4f4f4"/>
<ellipse cx="993.6" cy="169.8" rx="6.1" ry="2.3" fill="#ffffff"/>
<rect x="758.6" y="-1.4000000000000004" width="239.2" height="183.4" fill="url(#p4shade)"/>
<rect x="913" y="17.75" width="87" height="2.5" fill="#1f1f1f"/>
<rect x="925" y="30.0" width="75" height="4" fill="#0d0d0d"/>
<rect x="927" y="45.75" width="73" height="3.5" fill="#0d0d0d"/>
<rect x="900" y="50.0" width="100" height="4" fill="#6b6b6b"/>
<rect x="903" y="54.0" width="97" height="5" fill="#0d0d0d"/>
<rect x="887" y="72.0" width="113" height="5" fill="#0d0d0d"/>
<rect x="880" y="99.8" width="120" height="4" fill="#0f0f0f"/>
<rect x="880" y="105.5" width="120" height="6" fill="#6b6b6b"/>
<rect x="880" y="111.9" width="120" height="3" fill="#141414"/>
<rect x="880" y="129.0" width="120" height="4" fill="#0f0f0f"/>
<rect x="880" y="135.0" width="120" height="6" fill="#404040"/>
<rect x="880" y="156.0" width="120" height="5" fill="#0f0f0f"/>
<rect x="880" y="163.0" width="120" height="8" fill="#404040"/>
<path d="M761.7,15.1 Q765.4,9.9 772.0,9.0 Q779.5,10.7 780.4,14.3 Q771.1,17.9 761.7,15.1Z" fill="#2a2a2a"/>
<path d="M796.5,12.6 Q799.6,8.0 805.1,7.3 Q811.3,8.7 812.1,11.9 Q804.3,15.1 796.5,12.6Z" fill="#333333"/>
<path d="M839.4,13.1 Q843.3,7.2 850.0,6.2 Q857.6,8.1 858.6,12.2 Q849.0,16.4 839.4,13.1Z" fill="#272727"/>
<path d="M869.3,16.1 Q872.4,9.7 877.9,8.7 Q884.1,10.7 884.9,15.1 Q877.1,19.5 869.3,16.1Z" fill="#333333"/>
<path d="M788.3,25.2 Q791.3,20.3 796.5,19.5 Q802.4,21.0 803.2,24.4 Q795.7,27.8 788.3,25.2Z" fill="#262626"/>
<path d="M823.1,29.7 Q826.8,22.8 833.4,21.8 Q840.9,23.9 841.8,28.7 Q832.4,33.4 823.1,29.7Z" fill="#1f1f1f"/>
<path d="M862.8,25.3 Q867.2,20.0 874.8,19.1 Q883.6,20.8 884.7,24.5 Q873.7,28.2 862.8,25.3Z" fill="#323232"/>
<path d="M756.5,42.4 Q760.4,36.8 767.2,35.9 Q775.0,37.6 776.0,41.6 Q766.2,45.5 756.5,42.4Z" fill="#202020"/>
<path d="M797.2,40.1 Q800.6,35.7 806.6,35.1 Q813.4,36.4 814.3,39.4 Q805.7,42.5 797.2,40.1Z" fill="#2e2e2e"/>
<path d="M832.9,40.4 Q836.4,34.3 842.6,33.4 Q849.6,35.2 850.5,39.5 Q841.7,43.7 832.9,40.4Z" fill="#252525"/>
<path d="M873.4,38.7 Q878.1,32.1 886.4,31.1 Q895.9,33.1 897.0,37.7 Q885.2,42.2 873.4,38.7Z" fill="#222222"/>
<path d="M784.1,51.7 Q787.3,45.9 793.1,45.0 Q799.6,46.8 800.4,50.8 Q792.3,54.8 784.1,51.7Z" fill="#383838"/>
<path d="M820.8,52.7 Q825.2,47.9 832.9,47.2 Q841.7,48.7 842.8,51.9 Q831.8,55.2 820.8,52.7Z" fill="#222222"/>
<path d="M857.4,53.3 Q861.2,48.3 868.0,47.5 Q875.8,49.0 876.8,52.5 Q867.1,56.0 857.4,53.3Z" fill="#2c2c2c"/>
<path d="M760.3,69.8 Q763.5,63.6 769.1,62.6 Q775.5,64.5 776.3,68.9 Q768.3,73.2 760.3,69.8Z" fill="#282828"/>
<path d="M800.7,65.1 Q804.9,60.0 812.4,59.2 Q820.9,60.8 821.9,64.3 Q811.3,67.9 800.7,65.1Z" fill="#191919"/>
<path d="M840.7,65.9 Q843.7,59.8 848.9,58.9 Q854.9,60.8 855.6,65.0 Q848.1,69.2 840.7,65.9Z" fill="#232323"/>
<path d="M781.0,78.5 Q785.0,74.1 792.0,73.4 Q799.9,74.7 800.9,77.8 Q791.0,80.9 781.0,78.5Z" fill="#191919"/>
<path d="M826.9,79.8 Q830.5,75.4 836.8,74.8 Q844.0,76.1 844.9,79.1 Q835.9,82.2 826.9,79.8Z" fill="#272727"/>
<path d="M862.7,80.4 Q866.8,74.0 873.9,73.0 Q882.1,75.0 883.1,79.4 Q872.9,83.8 862.7,80.4Z" fill="#202020"/>
<path d="M766.2,96.3 Q769.0,90.9 774.0,90.1 Q779.7,91.8 780.4,95.4 Q773.3,99.1 766.2,96.3Z" fill="#313131"/>
<path d="M794.2,93.2 Q798.3,87.3 805.5,86.4 Q813.8,88.2 814.8,92.3 Q804.5,96.4 794.2,93.2Z" fill="#212121"/>
<path d="M835.8,93.6 Q839.9,89.1 847.1,88.4 Q855.3,89.8 856.3,92.9 Q846.1,96.0 835.8,93.6Z" fill="#313131"/>
<path d="M786.2,108.9 Q790.2,104.3 797.3,103.6 Q805.3,105.0 806.3,108.2 Q796.3,111.4 786.2,108.9Z" fill="#282828"/>
<path d="M819.3,108.3 Q822.8,102.7 828.9,101.9 Q835.9,103.6 836.8,107.5 Q828.0,111.3 819.3,108.3Z" fill="#383838"/>
<path d="M863.4,106.0 Q867.2,99.8 873.9,98.8 Q881.6,100.7 882.5,105.0 Q873.0,109.3 863.4,106.0Z" fill="#363636"/>
<path d="M762.5,120.5 Q765.7,116.1 771.3,115.4 Q777.7,116.8 778.5,119.8 Q770.5,122.8 762.5,120.5Z" fill="#2d2d2d"/>
<path d="M801.0,120.8 Q804.4,114.0 810.5,113.0 Q817.4,115.1 818.3,119.8 Q809.6,124.5 801.0,120.8Z" fill="#191919"/>
<path d="M841.2,120.4 Q845.9,115.8 854.2,115.1 Q863.7,116.5 864.9,119.7 Q853.1,122.8 841.2,120.4Z" fill="#282828"/>
<path d="M788.1,135.9 Q791.4,129.1 797.2,128.1 Q803.9,130.2 804.7,134.8 Q796.4,139.5 788.1,135.9Z" fill="#2a2a2a"/>
<path d="M819.8,136.2 Q822.8,129.7 828.1,128.7 Q834.2,130.7 835.0,135.2 Q827.4,139.7 819.8,136.2Z" fill="#1d1d1d"/>
<path d="M854.5,134.5 Q858.4,127.9 865.3,126.9 Q873.2,128.9 874.2,133.4 Q864.3,138.0 854.5,134.5Z" fill="#171717"/>
<path d="M764.8,148.5 Q767.9,141.5 773.4,140.4 Q779.8,142.6 780.6,147.4 Q772.7,152.2 764.8,148.5Z" fill="#1f1f1f"/>
<path d="M794.7,147.9 Q798.9,141.6 806.1,140.6 Q814.4,142.6 815.4,146.9 Q805.1,151.2 794.7,147.9Z" fill="#313131"/>
<path d="M836.9,145.0 Q839.7,140.3 844.6,139.6 Q850.3,141.0 851.0,144.3 Q843.9,147.6 836.9,145.0Z" fill="#222222"/>
<path d="M872.6,145.6 Q876.5,141.0 883.4,140.2 Q891.3,141.7 892.3,144.9 Q882.5,148.1 872.6,145.6Z" fill="#292929"/>
<path d="M781.2,158.2 Q785.2,153.9 792.4,153.2 Q800.6,154.6 801.6,157.5 Q791.4,160.5 781.2,158.2Z" fill="#373737"/>
<path d="M816.8,161.0 Q820.8,155.5 827.8,154.7 Q835.8,156.4 836.8,160.2 Q826.8,164.0 816.8,161.0Z" fill="#2d2d2d"/>
<path d="M854.7,163.2 Q859.0,156.9 866.6,155.9 Q875.2,157.9 876.3,162.2 Q865.5,166.6 854.7,163.2Z" fill="#323232"/>
<path d="M766.5,175.7 Q770.1,170.3 776.4,169.5 Q783.6,171.1 784.5,174.9 Q775.5,178.6 766.5,175.7Z" fill="#272727"/>
<path d="M807.3,172.8 Q811.1,167.4 817.8,166.6 Q825.5,168.2 826.5,171.9 Q816.9,175.7 807.3,172.8Z" fill="#161616"/>
<path d="M842.5,174.7 Q846.8,167.9 854.2,166.9 Q862.7,169.0 863.8,173.6 Q853.2,178.3 842.5,174.7Z" fill="#2f2f2f"/>
</g>
</g>
<line x1="788" y1="88.8" x2="977.5" y2="88.8" stroke="#22e8e0" stroke-width="1.6"/>
<rect x="788" y="88.8" width="189.5" height="73.6" fill="none" stroke="#1fd6d0" stroke-width="0.9"/>
<line x1="788" y1="134.4" x2="977.5" y2="134.4" stroke="#1fd6d0" stroke-width="0.9"/>
<polyline points="788.5,139 797.5,137.7 805.7,140.4 814,141.8 822.2,139 833.2,137.1 841.4,136.3 849.7,136.3 857.9,139 863.4,144.6 868.9,145.9 875.8,142.6 882.6,141 891,139 902,136.3 913,136.3 924,135.5 933.6,137.7 940.4,144.6 948.7,148 959.7,154.2 967.9,159.7 977.5,162.4" fill="none" stroke="#1fd6d0" stroke-width="0.9"/>
<path d="M786,86.8 L790,90.8 M790,86.8 L786,90.8 M975.5,86.8 L979.5,90.8 M979.5,86.8 L975.5,90.8" stroke="#22e8e0" stroke-width="1"/>
<rect x="789.2" y="127.3" width="44.5" height="7.6" fill="#ffffff"/>
<text x="790.5" y="134.2" font-size="8.6" fill="#000" font-weight="bold">938.57µm</text>
<rect x="789.2" y="165.4" width="43.4" height="7" fill="#ffffff"/>
<text x="794" y="172.2" font-size="8.6" fill="#000" font-weight="bold">59.72µm</text>
<line x1="93.9" y1="24.1" x2="211.8" y2="17.1" stroke="#e0e0e0" stroke-opacity="0.75" stroke-width="0.9"/>
<line x1="93.9" y1="28.6" x2="209" y2="21.8" stroke="#e0e0e0" stroke-opacity="0.4" stroke-width="0.9"/>
<line x1="93.9" y1="34.5" x2="209" y2="27.8" stroke="#e0e0e0" stroke-opacity="0.35" stroke-width="0.9"/>
<line x1="97" y1="39.7" x2="209" y2="33.8" stroke="#e0e0e0" stroke-opacity="0.3" stroke-width="0.9"/>
<path d="M99.7,152.3L105.5,91.6M111.4,152.0L115.8,91.0M123.1,151.6L126.0,90.5M134.8,151.2L136.2,89.9M146.5,150.9L146.5,89.4M158.2,150.6L156.8,88.8M170.0,150.2L167.0,88.2M181.7,149.9L177.2,87.7M193.4,149.5L187.5,87.1M205.1,149.2L197.8,86.6M216.8,148.8L208.0,86.0M99.7,152.3L216.8,148.8M100.3,146.2L215.9,142.5M100.9,140.2L215.0,136.2M101.4,134.1L214.2,130.0M102.0,128.0L213.3,123.7M102.6,122.0L212.4,117.4M103.2,115.9L211.5,111.1M103.8,109.8L210.6,104.8M104.3,103.7L209.8,98.6M104.9,97.7L208.9,92.3M105.5,91.6L208.0,86.0" stroke="#d8d8d8" stroke-opacity="0.6" stroke-width="0.7" fill="none"/>
<polygon points="97.0,44.5 209.0,40.5 209.0,100.0 196.0,109.0 160.0,116.0 111.0,117.0" fill="#7c7760" fill-opacity="0.88"/>
<line x1="112" y1="49.0" x2="209" y2="45.5" stroke="#c8c4a8" stroke-opacity="0.25" stroke-width="0.7"/>
<line x1="112" y1="54.6" x2="209" y2="50.7" stroke="#c8c4a8" stroke-opacity="0.25" stroke-width="0.7"/>
<line x1="112" y1="60.2" x2="209" y2="55.9" stroke="#c8c4a8" stroke-opacity="0.25" stroke-width="0.7"/>
<line x1="112" y1="65.8" x2="209" y2="61.1" stroke="#c8c4a8" stroke-opacity="0.25" stroke-width="0.7"/>
<line x1="112" y1="71.4" x2="209" y2="66.3" stroke="#c8c4a8" stroke-opacity="0.25" stroke-width="0.7"/>
<line x1="112" y1="77.0" x2="209" y2="71.5" stroke="#c8c4a8" stroke-opacity="0.25" stroke-width="0.7"/>
<line x1="112" y1="82.6" x2="209" y2="76.7" stroke="#c8c4a8" stroke-opacity="0.25" stroke-width="0.7"/>
<line x1="112" y1="88.2" x2="209" y2="81.9" stroke="#c8c4a8" stroke-opacity="0.25" stroke-width="0.7"/>
<line x1="112" y1="93.8" x2="209" y2="87.1" stroke="#c8c4a8" stroke-opacity="0.25" stroke-width="0.7"/>
<line x1="112" y1="99.4" x2="209" y2="92.3" stroke="#c8c4a8" stroke-opacity="0.25" stroke-width="0.7"/>
<line x1="112" y1="105.0" x2="209" y2="97.5" stroke="#c8c4a8" stroke-opacity="0.25" stroke-width="0.7"/>
<line x1="112" y1="110.6" x2="209" y2="102.7" stroke="#c8c4a8" stroke-opacity="0.25" stroke-width="0.7"/>
<polygon points="150.0,116.0 209.0,100.0 214.0,140.0 190.0,138.0" fill="#1c6068" fill-opacity="0.6"/>
<polygon points="98.0,46.0 120.0,56.0 140.0,72.0 160.0,90.0 178.0,104.0 165.0,114.0 111.0,117.0" fill="#d4d09c" fill-opacity="0.45"/>
<polygon points="91.6,51.7 97.0,43.5 106.0,94.0 84.3,79.2" fill="url(#brown1)" />
<polygon points="96.8,42.1 103.1,39.3 111.8,41.0 120.5,45.9 129.2,52.6 137.9,58.9 149.4,64.7 161.0,70.5 172.6,76.3 178.4,82.0 184.1,81.5 189.9,79.2 198.6,80.6 204.4,83.5 208.7,85.0 208.7,99.4 201.5,103.8 195.7,108.7 189.9,111.0 184.1,108.1 172.6,100.9 161.0,92.2 149.4,85.0 137.9,76.3 126.3,64.7 114.7,53.1 104.6,47.4 97.4,45.9" fill="url(#surf1)" />
<polyline points="96.8,42.1 103.1,39.3 111.8,41.0 120.5,45.9 129.2,52.6 137.9,58.9 149.4,64.7 161.0,70.5 172.6,76.3 178.4,82.0 184.1,81.5 189.9,79.2 198.6,80.6 204.4,83.5 208.7,85.0" fill="none" stroke="#fff8e8" stroke-opacity="0.5" stroke-width="1.5"/>
<polyline points="103.1,43.3 111.8,45.0 120.5,49.9 129.2,56.6 137.9,62.9 149.4,68.7 161.0,74.5 172.6,80.3 178.4,86.0 184.1,85.5 189.9,83.2 198.6,84.6" fill="none" stroke="#ffffff" stroke-opacity="0.3" stroke-width="1.2"/>
<polyline points="103.1,47.3 111.8,49.0 120.5,53.9 129.2,60.6 137.9,66.9 149.4,72.7 161.0,78.5 172.6,84.3 178.4,90.0 184.1,89.5 189.9,87.2 198.6,88.6" fill="none" stroke="#5a9a80" stroke-opacity="0.25" stroke-width="1.2"/>
<polyline points="103.1,51.3 111.8,53.0 120.5,57.9 129.2,64.6 137.9,70.9 149.4,76.7 161.0,82.5 172.6,88.3 178.4,94.0 184.1,93.5 189.9,91.2 198.6,92.6" fill="none" stroke="#ffffff" stroke-opacity="0.28" stroke-width="1.2"/>
<polyline points="103.1,56.3 111.8,58.0 120.5,62.9 129.2,69.6 137.9,75.9 149.4,81.7 161.0,87.5 172.6,93.3 178.4,99.0 184.1,98.5 189.9,96.2 198.6,97.6" fill="none" stroke="#4a8a78" stroke-opacity="0.22" stroke-width="1.2"/>
<path d="M176,96 C182,88 188,92 192,98 S200,96 206,92" fill="none" stroke="#ffffff" stroke-opacity="0.45" stroke-width="2"/>
<path d="M180,104 C186,100 192,104 198,102" fill="none" stroke="#60a0a0" stroke-opacity="0.35" stroke-width="1.5"/>
<line x1="96.8" y1="42.1" x2="111" y2="116.5" stroke="#3ee83e" stroke-width="1"/>
<circle cx="96.8" cy="42.1" r="2.2" fill="#20ff20"/>
<line x1="209.5" y1="17" x2="209.5" y2="100" stroke="#bbbbbb" stroke-width="0.8"/>
<line x1="211.8" y1="17" x2="222" y2="140" stroke="#bbbbbb" stroke-opacity="0.6" stroke-width="0.7"/>
<line x1="211" y1="36" x2="210" y2="104" stroke="#d87020" stroke-width="1"/>
<circle cx="214" cy="17" r="1.8" fill="#ffffff"/>
<circle cx="211.5" cy="35.8" r="2.2" fill="#ff7a10"/>
<circle cx="210.3" cy="86.7" r="1.8" fill="#ffffff"/>
<text x="215.3" y="15.3" font-size="7.6" fill="#e0e0e0" class="c3">2519.61</text>
<text x="214.4" y="35.6" font-size="7.6" fill="#e0e0e0" class="c3">2000.00</text>
<text x="214.4" y="47.7" font-size="7.6" fill="#e0e0e0" class="c3">1600.00</text>
<text x="214.4" y="58.7" font-size="7.6" fill="#e0e0e0" class="c3">1200.00</text>
<text x="216" y="69.4" font-size="7.6" fill="#e0e0e0" class="c3">800.00</text>
<text x="213.8" y="80.4" font-size="7.6" fill="#e0e0e0" class="c3">400.00</text>
<text x="216.7" y="89.6" font-size="7.6" fill="#e0e0e0" class="c3">0.00</text>
<text x="233.5" y="22.4" font-size="7.6" fill="#e0e0e0">µm</text>
<text x="77.5" y="103.9" font-size="7.6" fill="#e0e0e0" class="c3">2000.00</text>
<text x="72.3" y="128.3" font-size="7.6" fill="#e0e0e0" class="c3">1000.00</text>
<text x="67" y="155.2" font-size="7.6" fill="#e0e0e0" class="c3">0.00µm</text>
<text x="85.3" y="171.1" font-size="7.6" fill="#e0e0e0" class="c3">0.00µm</text>
<text x="123.7" y="169.6" font-size="7.6" fill="#e0e0e0" class="c3">1000.00</text>
<text x="161.8" y="168.2" font-size="7.6" fill="#e0e0e0" class="c3">2000.00</text>
<text x="200.9" y="166.7" font-size="7.6" fill="#e0e0e0" class="c3">3000.00</text>
<line x1="569" y1="33.5" x2="719.3" y2="17.8" stroke="#e0e0e0" stroke-opacity="0.75" stroke-width="0.9"/>
<line x1="569" y1="38.5" x2="716" y2="24" stroke="#e0e0e0" stroke-opacity="0.4" stroke-width="0.9"/>
<line x1="569" y1="43.5" x2="716" y2="30" stroke="#e0e0e0" stroke-opacity="0.35" stroke-width="0.9"/>
<line x1="569" y1="48.5" x2="716" y2="36" stroke="#e0e0e0" stroke-opacity="0.3" stroke-width="0.9"/>
<line x1="719" y1="18" x2="741" y2="90" stroke="#d0d0d0" stroke-opacity="0.55" stroke-width="0.7"/>
<line x1="719" y1="18" x2="738" y2="100" stroke="#d0d0d0" stroke-opacity="0.55" stroke-width="0.7"/>
<line x1="719" y1="18" x2="735" y2="110" stroke="#d0d0d0" stroke-opacity="0.55" stroke-width="0.7"/>
<line x1="719" y1="18" x2="732" y2="120" stroke="#d0d0d0" stroke-opacity="0.55" stroke-width="0.7"/>
<line x1="719" y1="18" x2="729" y2="130" stroke="#d0d0d0" stroke-opacity="0.55" stroke-width="0.7"/>
<line x1="717" y1="18" x2="716.5" y2="112" stroke="#c0c0c0" stroke-opacity="0.6" stroke-width="0.8"/>
<path d="M569.5,153.0L573.0,93.0M581.5,152.1L583.0,92.6M593.4,151.1L593.0,92.3M605.4,150.2L603.0,91.9M617.4,149.3L613.0,91.6M629.3,148.4L623.0,91.2M641.3,147.4L633.0,90.9M653.2,146.5L643.0,90.5M665.2,145.6L653.0,90.1M677.2,144.6L663.0,89.8M689.1,143.7L673.0,89.4M701.1,142.8L683.0,89.1M713.1,141.9L693.0,88.7M725.0,140.9L703.0,88.4M737.0,140.0L713.0,88.0M569.5,153.0L737.0,140.0M569.9,146.3L734.3,134.2M570.3,139.7L731.7,128.4M570.7,133.0L729.0,122.7M571.1,126.3L726.3,116.9M571.4,119.7L723.7,111.1M571.8,113.0L721.0,105.3M572.2,106.3L718.3,99.6M572.6,99.7L715.7,93.8M573.0,93.0L713.0,88.0" stroke="#d8d8d8" stroke-opacity="0.55" stroke-width="0.7" fill="none"/>
<g filter="url(#blur1)">
<polygon points="560.0,102.0 574.0,98.0 588.0,104.0 590.0,120.0 576.0,126.0 562.0,120.0" fill="#3e3e2c" fill-opacity="0.8"/>
</g>
<polygon points="567.1,77.2 579.3,78.8 591.4,75.7 603.6,71.2 615.7,75.7 630.9,78.8 640.0,74.2 652.1,66.6 664.3,65.1 676.4,68.1 688.6,72.7 700.7,78.8 712.9,90.9 716.0,100.0 690.0,101.0 640.0,103.0 600.0,106.0 587.0,108.0 567.0,106.0" fill="url(#wall3)" fill-opacity="0.88"/>
<g fill="none" stroke="#d8e8a0" stroke-opacity="0.45" stroke-width="1.4">
<path d="M568,90 C578,84 586,96 596,90 S614,84 624,92 S646,96 656,88 S676,84 690,92 S706,96 712,94"/>
<path d="M570,100 C580,94 590,104 600,98 S620,94 632,100 S652,104 664,98 S684,94 700,100"/>
</g>
<path d="M600,76 L601.5,104.0M620,72 L621.5,103.4M640,76 L641.5,102.8M660,72 L661.5,102.2M680,76 L681.5,101.6M700,72 L701.5,101.0M720,76 L721.5,100.4M570,87 L712,81M570,98 L712,92" stroke="#e8e8e0" stroke-opacity="0.3" stroke-width="0.7" fill="none"/>
<g filter="url(#blur1)">
<polygon points="694.0,48.0 706.0,52.0 716.0,64.0 719.0,97.0 738.0,140.0 726.0,141.0 706.0,112.0 696.0,85.0" fill="url(#side3)" fill-opacity="0.5"/>
</g>
<g filter="url(#blur06)">
<polygon points="567.0,72.0 570.4,59.9 574.7,53.8 582.5,51.2 591.2,49.5 599.9,47.7 605.0,44.3 610.3,30.4 615.5,28.3 625.9,29.5 632.8,30.7 636.3,35.6 638.9,42.5 643.2,40.8 648.4,37.3 653.6,36.5 658.8,39.1 664.0,40.8 670.9,37.3 676.1,35.6 681.3,36.5 688.2,40.8 696.9,46.0 705.6,54.7 712.5,63.3 716.0,72.0 718.9,97.0 712.9,90.9 700.7,78.8 688.6,72.7 676.4,68.1 664.3,65.1 652.1,66.6 640.0,74.2 630.9,78.8 615.7,75.7 603.6,71.2 591.4,75.7 579.3,78.8 567.1,77.2" fill="url(#surf3)" fill-opacity="0.92"/>
<g fill="none" stroke-linecap="round">
<path d="M570,66 C580,60 590,70 600,62 S620,58 630,66 S650,60 660,56 S680,52 700,60" stroke="#a8d890" stroke-opacity="0.6" stroke-width="3"/>
<path d="M572,58 C584,52 594,58 604,52 S640,48 650,46 S676,44 690,48" stroke="#f0f8d0" stroke-opacity="0.35" stroke-width="2.5"/>
<path d="M575,74 C585,70 595,74 605,68 S625,72 635,70 S655,62 668,62 S690,66 705,74" stroke="#f4f4c8" stroke-opacity="0.3" stroke-width="2"/>
<path d="M566,73 C572,60 580,56 590,54" stroke="#78e878" stroke-opacity="0.7" stroke-width="3"/>
<path d="M642,42 C650,38 656,40 662,40 S676,36 686,40 S700,46 710,54" stroke="#84e070" stroke-opacity="0.75" stroke-width="3"/>
<path d="M600,66 C606,60 612,62 618,66" stroke="#e8c0a8" stroke-opacity="0.6" stroke-width="3"/>
</g>
<polygon points="605.0,54.0 607.0,44.0 610.3,30.4 615.5,28.3 625.9,29.5 632.8,30.7 636.3,35.6 638.9,42.5 636.0,52.0 624.0,50.0 612.0,53.0" fill="url(#peak3)" fill-opacity="0.85"/>
<polygon points="610.0,58.0 614.0,53.0 624.0,51.0 632.0,54.0 628.0,60.0 616.0,61.0" fill="#d8a898" fill-opacity="0.6"/>
<polygon points="640.0,44.0 648.0,40.0 656.0,42.0 652.0,50.0 642.0,52.0" fill="#e0b8a8" fill-opacity="0.45"/>
</g>
<polyline points="567.1,77.2 579.3,78.8 591.4,75.7 603.6,71.2 615.7,75.7 630.9,78.8 640.0,74.2 652.1,66.6" fill="none" stroke="#d07040" stroke-opacity="0.6" stroke-width="0.6"/>
<line x1="575.6" y1="55.4" x2="587.3" y2="107.7" stroke="#3ee83e" stroke-width="1.1"/>
<line x1="587.3" y1="107.7" x2="590" y2="122" stroke="#3ee83e" stroke-opacity="0.5" stroke-width="1"/>
<circle cx="575.6" cy="55.4" r="2.4" fill="#20ff20"/>
<line x1="717.2" y1="41" x2="716" y2="80" stroke="#e07a20" stroke-width="1.3"/>
<circle cx="719.3" cy="17.8" r="1.9" fill="#ffffff"/>
<circle cx="717.2" cy="41.2" r="2.4" fill="#ff7a10"/>
<circle cx="716.4" cy="61.5" r="1.9" fill="#ffffff"/>
<text x="722.8" y="14.1" font-size="10.3" fill="#e6e6e6" class="c3">1177.37</text>
<text x="721.1" y="49.4" font-size="9.6" fill="#e6e6e6" class="c3">400.00</text>
<text x="725" y="63.4" font-size="9.6" fill="#e6e6e6" class="c3">0.00</text>
<text x="540.5" y="89.9" font-size="8.8" fill="#e6e6e6" class="c3">2000.00</text>
<text x="532.3" y="121.0" font-size="9.4" fill="#e6e6e6" class="c3">1000.00</text>
<text x="523.8" y="157.8" font-size="10.6" fill="#e6e6e6" class="c3">0.00µm</text>
<text x="603.3" y="168.8" font-size="9.9" fill="#e6e6e6" class="c3">1000.00</text>
<text x="659.4" y="167.7" font-size="11.2" fill="#e6e6e6" class="c3">2000.00</text>
<text x="715.7" y="163.6" font-size="11.2" fill="#e6e6e6" class="c3">3000.00</text>
<text x="742.7" y="22.4" font-size="9.6" fill="#e6e6e6">µm</text>
<rect x="2.6" y="12" width="5.8" height="83" fill="url(#cbar)"/>
<rect x="498.7" y="12" width="6.3" height="83.4" fill="url(#cbar)"/>
<text x="10" y="7.5" font-size="8.7" fill="#d8d8d8">µm</text>
<text x="10" y="17.7" font-size="8.7" fill="#d8d8d8">2519.61</text>
<text x="10" y="28.6" font-size="8.7" fill="#d8d8d8">2159.67</text>
<text x="10" y="39.9" font-size="8.7" fill="#d8d8d8">1799.72</text>
<text x="10" y="51.2" font-size="8.7" fill="#d8d8d8">1439.78</text>
<text x="10" y="62.4" font-size="8.7" fill="#d8d8d8">1079.83</text>
<text x="10" y="73.4" font-size="8.7" fill="#d8d8d8">719.89</text>
<text x="10" y="84.7" font-size="8.7" fill="#d8d8d8">359.94</text>
<text x="10" y="95.7" font-size="8.7" fill="#d8d8d8">0.00</text>
<text x="506.6" y="7.5" font-size="8.7" fill="#d8d8d8">µm</text>
<text x="506.6" y="17.7" font-size="8.7" fill="#d8d8d8">1177.37</text>
<text x="506.6" y="29.2" font-size="8.7" fill="#d8d8d8">1009.18</text>
<text x="506.6" y="40.2" font-size="8.7" fill="#d8d8d8">840.98</text>
<text x="506.6" y="51.8" font-size="8.7" fill="#d8d8d8">672.78</text>
<text x="506.6" y="63.0" font-size="8.7" fill="#d8d8d8">504.59</text>
<text x="506.6" y="74.0" font-size="8.7" fill="#d8d8d8">336.39</text>
<text x="506.6" y="85.0" font-size="8.7" fill="#d8d8d8">168.19</text>
<text x="506.6" y="96.2" font-size="8.7" fill="#d8d8d8">0.00</text>
</g></svg></body></html>
